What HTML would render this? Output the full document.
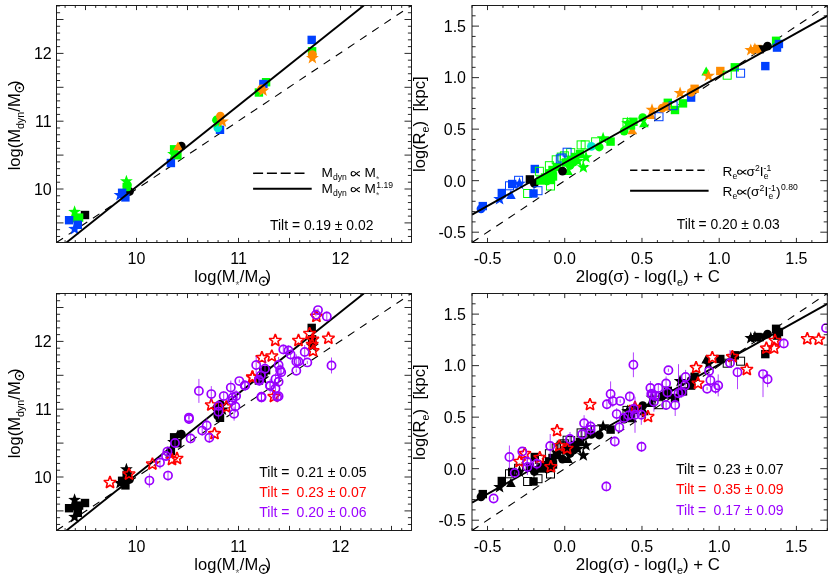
<!DOCTYPE html>
<html><head><meta charset="utf-8"><title>Figure</title><style>html,body{margin:0;padding:0;background:#fff;overflow:hidden}svg{display:block;will-change:transform}text{font-family:"Liberation Sans",sans-serif}</style></head><body>
<svg width="830" height="575" viewBox="0 0 830 575">
<rect width="830" height="575" fill="#fff"/>
<defs>
<clipPath id="c1"><rect x="56.5" y="5.5" width="355.0" height="237.0"/></clipPath>
<clipPath id="c2"><rect x="472.0" y="5.5" width="355.3" height="237.0"/></clipPath>
<clipPath id="c3"><rect x="56.5" y="293.5" width="355.0" height="237.0"/></clipPath>
<clipPath id="c4"><rect x="472.0" y="293.5" width="355.3" height="237.0"/></clipPath>
</defs>
<g clip-path="url(#c1)">
<line x1="56.5" y1="242.5" x2="411.5" y2="5.5" stroke="#000" stroke-width="1.1" stroke-dasharray="7.8 6.8"/>
<rect x="80.8" y="210.8" width="8.4" height="8.4" fill="#000000"/>
<polygon points="74.6,205.3 76.2,209.8 81.0,209.9 77.2,212.8 78.5,217.4 74.6,214.8 70.7,217.4 72.0,212.8 68.2,209.9 73.0,209.8" fill="#00ff00"/>
<rect x="72.1" y="214.0" width="8.4" height="8.4" fill="#00ff00"/>
<rect x="74.9" y="213.4" width="8.4" height="8.4" fill="#00ff00"/>
<rect x="64.9" y="216.0" width="8.4" height="8.4" fill="#0040ff"/>
<polygon points="74.6,222.3 76.2,226.8 81.0,226.9 77.2,229.8 78.5,234.4 74.6,231.8 70.7,234.4 72.0,229.8 68.2,226.9 73.0,226.8" fill="#0040ff"/>
<rect x="73.6" y="220.6" width="8.4" height="8.4" fill="#0040ff"/>
<circle cx="129.5" cy="191.5" r="4.4" fill="#000000"/>
<polygon points="126.4,174.7 128.0,179.2 132.8,179.3 129.0,182.2 130.3,186.8 126.4,184.2 122.5,186.8 123.8,182.2 120.0,179.3 124.8,179.2" fill="#00ff00"/>
<rect x="122.5" y="182.8" width="8.4" height="8.4" fill="#00ff00"/>
<circle cx="127.5" cy="185.0" r="4.4" fill="#00ff00"/>
<polygon points="120.0,188.4 121.6,192.9 126.4,193.0 122.6,195.9 123.9,200.5 120.0,197.9 116.1,200.5 117.4,195.9 113.6,193.0 118.4,192.9" fill="#0040ff"/>
<rect x="117.9" y="188.6" width="8.4" height="8.4" fill="#0040ff"/>
<rect x="121.2" y="193.2" width="8.4" height="8.4" fill="#0040ff"/>
<circle cx="181.3" cy="146.1" r="4.4" fill="#000000"/>
<rect x="169.9" y="145.1" width="8.4" height="8.4" fill="#00ff00"/>
<polygon points="173.5,147.5 175.1,152.0 179.9,152.1 176.1,155.0 177.4,159.6 173.5,157.0 169.6,159.6 170.9,155.0 167.1,152.1 171.9,152.0" fill="#00ff00"/>
<rect x="173.2" y="151.0" width="8.4" height="8.4" fill="#00ff00"/>
<polygon points="178.0,141.5 182.8,150.3 173.2,150.3" fill="#ff8c00"/>
<rect x="166.7" y="158.8" width="8.4" height="8.4" fill="#0040ff"/>
<rect x="215.8" y="125.6" width="8.4" height="8.4" fill="#0040ff"/>
<circle cx="217.8" cy="127.8" r="4.4" fill="#00e8d0"/>
<circle cx="216.5" cy="120.0" r="4.4" fill="#00ff00"/>
<polygon points="218.0,115.6 219.6,120.1 224.4,120.2 220.6,123.1 221.9,127.7 218.0,125.0 214.1,127.7 215.4,123.1 211.6,120.2 216.4,120.1" fill="#00ff00"/>
<circle cx="220.4" cy="116.1" r="4.4" fill="#ff8c00"/>
<polygon points="222.4,114.9 224.0,119.4 228.8,119.5 225.0,122.4 226.3,127.0 222.4,124.3 218.5,127.0 219.8,122.4 216.0,119.5 220.8,119.4" fill="#ff8c00"/>
<rect x="261.9" y="78.0" width="8.4" height="8.4" fill="#00ff00"/>
<rect x="254.7" y="88.3" width="8.4" height="8.4" fill="#00ff00"/>
<rect x="259.2" y="79.8" width="8.4" height="8.4" fill="#0040ff"/>
<circle cx="261.5" cy="89.0" r="4.4" fill="#ff8c00"/>
<polygon points="263.0,83.9 264.6,88.4 269.4,88.5 265.6,91.4 266.9,96.0 263.0,93.3 259.1,96.0 260.4,91.4 256.6,88.5 261.4,88.4" fill="#ff8c00"/>
<rect x="307.5" y="35.7" width="8.4" height="8.4" fill="#0040ff"/>
<rect x="307.9" y="47.1" width="8.4" height="8.4" fill="#00ff00"/>
<circle cx="312.4" cy="54.6" r="4.4" fill="#ff8c00"/>
<polygon points="312.4,51.4 314.0,55.9 318.8,56.0 315.0,58.9 316.3,63.5 312.4,60.8 308.5,63.5 309.8,58.9 306.0,56.0 310.8,55.9" fill="#ff8c00"/>
<line x1="66.5" y1="242.5" x2="363.8" y2="5.5" stroke="#000" stroke-width="1.9"/>
</g>
<path d="M65.10 242.50v-2.4M65.10 5.50v2.4M75.30 242.50v-2.4M75.30 5.50v2.4M85.50 242.50v-4.6M85.50 5.50v4.6M95.70 242.50v-2.4M95.70 5.50v2.4M105.90 242.50v-2.4M105.90 5.50v2.4M116.10 242.50v-2.4M116.10 5.50v2.4M126.30 242.50v-2.4M126.30 5.50v2.4M136.50 242.50v-4.6M136.50 5.50v4.6M146.70 242.50v-2.4M146.70 5.50v2.4M156.90 242.50v-2.4M156.90 5.50v2.4M167.10 242.50v-2.4M167.10 5.50v2.4M177.30 242.50v-2.4M177.30 5.50v2.4M187.50 242.50v-4.6M187.50 5.50v4.6M197.70 242.50v-2.4M197.70 5.50v2.4M207.90 242.50v-2.4M207.90 5.50v2.4M218.10 242.50v-2.4M218.10 5.50v2.4M228.30 242.50v-2.4M228.30 5.50v2.4M238.50 242.50v-4.6M238.50 5.50v4.6M248.70 242.50v-2.4M248.70 5.50v2.4M258.90 242.50v-2.4M258.90 5.50v2.4M269.10 242.50v-2.4M269.10 5.50v2.4M279.30 242.50v-2.4M279.30 5.50v2.4M289.50 242.50v-4.6M289.50 5.50v4.6M299.70 242.50v-2.4M299.70 5.50v2.4M309.90 242.50v-2.4M309.90 5.50v2.4M320.10 242.50v-2.4M320.10 5.50v2.4M330.30 242.50v-2.4M330.30 5.50v2.4M340.50 242.50v-4.6M340.50 5.50v4.6M350.70 242.50v-2.4M350.70 5.50v2.4M360.90 242.50v-2.4M360.90 5.50v2.4M371.10 242.50v-2.4M371.10 5.50v2.4M381.30 242.50v-2.4M381.30 5.50v2.4M391.50 242.50v-4.6M391.50 5.50v4.6M401.70 242.50v-2.4M401.70 5.50v2.4M56.50 236.46h3.6M411.50 236.46h-3.6M56.50 229.68h3.6M411.50 229.68h-3.6M56.50 222.90h7.0M411.50 222.90h-7.0M56.50 216.12h3.6M411.50 216.12h-3.6M56.50 209.34h3.6M411.50 209.34h-3.6M56.50 202.56h3.6M411.50 202.56h-3.6M56.50 195.78h3.6M411.50 195.78h-3.6M56.50 189.00h7.0M411.50 189.00h-7.0M56.50 182.22h3.6M411.50 182.22h-3.6M56.50 175.44h3.6M411.50 175.44h-3.6M56.50 168.66h3.6M411.50 168.66h-3.6M56.50 161.88h3.6M411.50 161.88h-3.6M56.50 155.10h7.0M411.50 155.10h-7.0M56.50 148.32h3.6M411.50 148.32h-3.6M56.50 141.54h3.6M411.50 141.54h-3.6M56.50 134.76h3.6M411.50 134.76h-3.6M56.50 127.98h3.6M411.50 127.98h-3.6M56.50 121.20h7.0M411.50 121.20h-7.0M56.50 114.42h3.6M411.50 114.42h-3.6M56.50 107.64h3.6M411.50 107.64h-3.6M56.50 100.86h3.6M411.50 100.86h-3.6M56.50 94.08h3.6M411.50 94.08h-3.6M56.50 87.30h7.0M411.50 87.30h-7.0M56.50 80.52h3.6M411.50 80.52h-3.6M56.50 73.74h3.6M411.50 73.74h-3.6M56.50 66.96h3.6M411.50 66.96h-3.6M56.50 60.18h3.6M411.50 60.18h-3.6M56.50 53.40h7.0M411.50 53.40h-7.0M56.50 46.62h3.6M411.50 46.62h-3.6M56.50 39.84h3.6M411.50 39.84h-3.6M56.50 33.06h3.6M411.50 33.06h-3.6M56.50 26.28h3.6M411.50 26.28h-3.6M56.50 19.50h7.0M411.50 19.50h-7.0M56.50 12.72h3.6M411.50 12.72h-3.6M56.50 5.94h3.6M411.50 5.94h-3.6" stroke="#111" stroke-width="0.9" fill="none"/>
<rect x="56.50" y="5.50" width="355.00" height="237.00" fill="none" stroke="#111" stroke-width="0.95"/>
<text x="136.5" y="264.2" font-size="16.00" text-anchor="middle" fill="#000">10</text>
<text x="238.5" y="264.2" font-size="16.00" text-anchor="middle" fill="#000">11</text>
<text x="340.5" y="264.2" font-size="16.00" text-anchor="middle" fill="#000">12</text>
<text x="51.7" y="194.8" font-size="16.00" text-anchor="end" fill="#000">10</text>
<text x="51.7" y="127.0" font-size="16.00" text-anchor="end" fill="#000">11</text>
<text x="51.7" y="59.2" font-size="16.00" text-anchor="end" fill="#000">12</text>
<text x="194.36" y="281.90" font-size="16.50" fill="#000">log(M</text>
<text x="235.62" y="288.70" font-size="10.00" fill="#666">*</text>
<text x="239.81" y="281.90" font-size="16.50" fill="#000">/M</text>
<circle cx="263.6" cy="281.3" r="4.1" fill="none" stroke="#000" stroke-width="1.2"/><circle cx="263.6" cy="281.3" r="1.1" fill="#000"/>
<text x="265.54" y="281.90" font-size="16.50" fill="#000">)</text>
<g transform="translate(20.1 170.3) rotate(-90)">
<text x="0.00" y="0.00" font-size="16.50" fill="#000">log(M</text>
<text x="41.26" y="3.90" font-size="10.80" fill="#000">dyn</text>
<text x="58.67" y="0.00" font-size="16.50" fill="#000">/M</text>
<circle cx="82.5" cy="-0.6" r="4.1" fill="none" stroke="#000" stroke-width="1.2"/><circle cx="82.5" cy="-0.6" r="1.1" fill="#000"/>
<text x="84.40" y="0.00" font-size="16.50" fill="#000">)</text>
</g>
<g clip-path="url(#c2)">
<line x1="472.0" y1="242.5" x2="827.3" y2="5.5" stroke="#000" stroke-width="1.1" stroke-dasharray="7.8 6.8"/>
<rect x="478.6" y="201.9" width="8.4" height="8.4" fill="#0040ff"/>
<circle cx="481.0" cy="208.8" r="4.4" fill="#0040ff"/>
<polygon points="499.6,192.5 501.2,197.0 506.0,197.1 502.2,200.0 503.5,204.6 499.6,202.0 495.7,204.6 497.0,200.0 493.2,197.1 498.0,197.0" fill="#0040ff"/>
<rect x="497.6" y="188.8" width="8.4" height="8.4" fill="#0040ff"/>
<polygon points="510.9,190.1 515.7,198.9 506.1,198.9" fill="#0040ff"/>
<rect x="505.5" y="181.8" width="8.0" height="8.0" fill="none" stroke="#0040ff" stroke-width="1.0"/>
<rect x="508.0" y="179.8" width="8.4" height="8.4" fill="#0040ff"/>
<rect x="514.6" y="176.3" width="8.0" height="8.0" fill="none" stroke="#0040ff" stroke-width="1.0"/>
<polygon points="519.5,177.1 521.1,181.6 525.9,181.7 522.1,184.6 523.4,189.2 519.5,186.6 515.6,189.2 516.9,184.6 513.1,181.7 517.9,181.6" fill="#0040ff"/>
<rect x="525.7" y="175.2" width="8.4" height="8.4" fill="#000000"/>
<circle cx="534.4" cy="183.5" r="4.4" fill="#000000"/>
<rect x="530.6" y="164.8" width="8.4" height="8.4" fill="#0040ff"/>
<rect x="535.4" y="167.3" width="8.0" height="8.0" fill="none" stroke="#00ff00" stroke-width="1.0"/>
<rect x="523.6" y="189.5" width="8.0" height="8.0" fill="none" stroke="#00ff00" stroke-width="1.0"/>
<rect x="529.3" y="189.3" width="8.4" height="8.4" fill="#0040ff"/>
<rect x="534.0" y="186.7" width="8.0" height="8.0" fill="none" stroke="#0040ff" stroke-width="1.0"/>
<rect x="536.3" y="176.3" width="8.4" height="8.4" fill="#00ff00"/>
<rect x="540.8" y="173.3" width="8.4" height="8.4" fill="#00ff00"/>
<rect x="544.8" y="169.8" width="8.4" height="8.4" fill="#00ff00"/>
<rect x="548.8" y="172.3" width="8.4" height="8.4" fill="#00ff00"/>
<circle cx="547.0" cy="181.0" r="4.4" fill="#00ff00"/>
<rect x="548.3" y="165.8" width="8.4" height="8.4" fill="#00ff00"/>
<rect x="552.8" y="162.8" width="8.4" height="8.4" fill="#00ff00"/>
<rect x="546.8" y="175.8" width="8.4" height="8.4" fill="#00ff00"/>
<rect x="546.5" y="182.0" width="8.0" height="8.0" fill="none" stroke="#00ff00" stroke-width="1.0"/>
<rect x="545.4" y="161.7" width="8.0" height="8.0" fill="none" stroke="#00ff00" stroke-width="1.0"/>
<rect x="552.2" y="155.8" width="8.0" height="8.0" fill="none" stroke="#00ff00" stroke-width="1.0"/>
<rect x="557.2" y="153.1" width="8.0" height="8.0" fill="none" stroke="#00ff00" stroke-width="1.0"/>
<rect x="560.4" y="151.8" width="8.0" height="8.0" fill="none" stroke="#00ff00" stroke-width="1.0"/>
<rect x="566.7" y="148.6" width="8.0" height="8.0" fill="none" stroke="#00ff00" stroke-width="1.0"/>
<rect x="577.1" y="140.9" width="8.0" height="8.0" fill="none" stroke="#00ff00" stroke-width="1.0"/>
<rect x="581.2" y="140.9" width="8.0" height="8.0" fill="none" stroke="#00ff00" stroke-width="1.0"/>
<rect x="591.6" y="137.8" width="8.0" height="8.0" fill="none" stroke="#00ff00" stroke-width="1.0"/>
<rect x="556.3" y="154.9" width="8.0" height="8.0" fill="none" stroke="#0040ff" stroke-width="1.0"/>
<rect x="558.0" y="154.0" width="8.0" height="8.0" fill="none" stroke="#0040ff" stroke-width="1.0"/>
<rect x="563.1" y="148.2" width="8.0" height="8.0" fill="none" stroke="#0040ff" stroke-width="1.0"/>
<rect x="561.8" y="158.3" width="8.4" height="8.4" fill="#00ff00"/>
<rect x="566.8" y="155.8" width="8.4" height="8.4" fill="#00ff00"/>
<rect x="570.8" y="152.8" width="8.4" height="8.4" fill="#00ff00"/>
<circle cx="570.0" cy="165.5" r="4.4" fill="#00ff00"/>
<polygon points="568.0,166.3 572.8,175.1 563.2,175.1" fill="#00ff00"/>
<rect x="575.8" y="149.8" width="8.4" height="8.4" fill="#00ff00"/>
<circle cx="574.0" cy="162.0" r="4.4" fill="#00ff00"/>
<polygon points="577.9,154.3 579.5,158.8 584.3,158.9 580.5,161.8 581.8,166.4 577.9,163.8 574.0,166.4 575.3,161.8 571.5,158.9 576.3,158.8" fill="#00ff00"/>
<polygon points="586.0,150.7 587.6,155.2 592.4,155.3 588.6,158.2 589.9,162.8 586.0,160.2 582.1,162.8 583.4,158.2 579.6,155.3 584.4,155.2" fill="#00ff00"/>
<polygon points="583.3,160.7 584.9,165.2 589.7,165.3 585.9,168.2 587.2,172.8 583.3,170.2 579.4,172.8 580.7,168.2 576.9,165.3 581.7,165.2" fill="#00ff00"/>
<circle cx="562.5" cy="171.1" r="4.4" fill="#000000"/>
<circle cx="591.4" cy="146.3" r="4.4" fill="#00e8d0"/>
<circle cx="599.2" cy="147.0" r="4.4" fill="#00ff00"/>
<polygon points="603.1,131.7 604.7,136.2 609.5,136.3 605.7,139.2 607.0,143.8 603.1,141.2 599.2,143.8 600.5,139.2 596.7,136.3 601.5,136.2" fill="#00ff00"/>
<rect x="606.4" y="137.4" width="8.4" height="8.4" fill="#00ff00"/>
<polygon points="632.2,125.4 637.0,134.2 627.4,134.2" fill="#ff8c00"/>
<circle cx="624.1" cy="131.1" r="4.4" fill="#00ff00"/>
<rect x="623.0" y="118.4" width="8.0" height="8.0" fill="none" stroke="#00ff00" stroke-width="1.0"/>
<polygon points="627.5,116.6 629.1,121.1 633.9,121.2 630.1,124.1 631.4,128.7 627.5,126.0 623.6,128.7 624.9,124.1 621.1,121.2 625.9,121.1" fill="#00ff00"/>
<rect x="629.2" y="117.6" width="8.4" height="8.4" fill="#00ff00"/>
<rect x="626.8" y="121.3" width="8.4" height="8.4" fill="#00ff00"/>
<circle cx="642.7" cy="117.7" r="4.4" fill="#00ff00"/>
<polygon points="643.9,118.4 648.7,127.2 639.1,127.2" fill="#00ff00"/>
<polygon points="650.9,110.2 655.7,119.0 646.1,119.0" fill="#ff8c00"/>
<polygon points="652.0,103.2 653.6,107.7 658.4,107.8 654.6,110.7 655.9,115.3 652.0,112.6 648.1,115.3 649.4,110.7 645.6,107.8 650.4,107.7" fill="#ff8c00"/>
<rect x="655.0" y="112.7" width="8.0" height="8.0" fill="none" stroke="#0040ff" stroke-width="1.0"/>
<rect x="663.6" y="98.6" width="8.4" height="8.4" fill="#00ff00"/>
<circle cx="662.2" cy="108.2" r="4.4" fill="#ff8c00"/>
<rect x="662.4" y="102.3" width="8.4" height="8.4" fill="#ff8c00"/>
<rect x="670.8" y="105.8" width="8.4" height="8.4" fill="#00ff00"/>
<rect x="669.1" y="101.7" width="8.0" height="8.0" fill="none" stroke="#0040ff" stroke-width="1.0"/>
<rect x="678.8" y="99.2" width="8.4" height="8.4" fill="#00ff00"/>
<polygon points="680.1,86.5 681.7,91.0 686.5,91.1 682.7,94.0 684.0,98.6 680.1,96.0 676.2,98.6 677.5,94.0 673.7,91.1 678.5,91.0" fill="#ff8c00"/>
<rect x="686.9" y="93.4" width="8.4" height="8.4" fill="#0040ff"/>
<circle cx="691.1" cy="92.3" r="4.4" fill="#ff8c00"/>
<rect x="690.4" y="84.6" width="8.4" height="8.4" fill="#ff8c00"/>
<polygon points="706.2,66.6 711.0,75.4 701.4,75.4" fill="#00ff00"/>
<polygon points="708.5,69.2 710.1,73.7 714.9,73.8 711.1,76.7 712.4,81.3 708.5,78.6 704.6,81.3 705.9,76.7 702.1,73.8 706.9,73.7" fill="#ff8c00"/>
<rect x="716.1" y="66.8" width="8.4" height="8.4" fill="#ff8c00"/>
<rect x="723.2" y="71.2" width="8.0" height="8.0" fill="none" stroke="#00ff00" stroke-width="1.0"/>
<rect x="730.6" y="63.1" width="8.4" height="8.4" fill="#00ff00"/>
<rect x="736.6" y="69.2" width="8.0" height="8.0" fill="none" stroke="#0040ff" stroke-width="1.0"/>
<polygon points="750.8,43.4 752.4,47.9 757.2,48.0 753.4,50.9 754.7,55.5 750.8,52.8 746.9,55.5 748.2,50.9 744.4,48.0 749.2,47.9" fill="#ff8c00"/>
<polygon points="754.9,42.5 756.5,47.0 761.3,47.1 757.5,50.0 758.8,54.6 754.9,51.9 751.0,54.6 752.3,50.0 748.5,47.1 753.3,47.0" fill="#ff8c00"/>
<rect x="753.3" y="44.8" width="8.4" height="8.4" fill="#ff8c00"/>
<polygon points="763.0,54.1 767.8,45.3 758.2,45.3" fill="#000000"/>
<circle cx="767.5" cy="46.2" r="4.4" fill="#000000"/>
<rect x="771.9" y="36.6" width="8.4" height="8.4" fill="#00ff00"/>
<rect x="774.7" y="39.8" width="8.4" height="8.4" fill="#0040ff"/>
<rect x="772.8" y="43.4" width="8.4" height="8.4" fill="#0040ff"/>
<rect x="761.1" y="61.9" width="8.4" height="8.4" fill="#0040ff"/>
<line x1="472.0" y1="214.6" x2="827.3" y2="15.9" stroke="#000" stroke-width="1.9"/>
</g>
<path d="M472.07 242.50v-2.4M472.07 5.50v2.4M487.51 242.50v-4.6M487.51 5.50v4.6M502.96 242.50v-2.4M502.96 5.50v2.4M518.40 242.50v-2.4M518.40 5.50v2.4M533.85 242.50v-2.4M533.85 5.50v2.4M549.29 242.50v-2.4M549.29 5.50v2.4M564.74 242.50v-4.6M564.74 5.50v4.6M580.19 242.50v-2.4M580.19 5.50v2.4M595.63 242.50v-2.4M595.63 5.50v2.4M611.08 242.50v-2.4M611.08 5.50v2.4M626.52 242.50v-2.4M626.52 5.50v2.4M641.97 242.50v-4.6M641.97 5.50v4.6M657.41 242.50v-2.4M657.41 5.50v2.4M672.86 242.50v-2.4M672.86 5.50v2.4M688.30 242.50v-2.4M688.30 5.50v2.4M703.75 242.50v-2.4M703.75 5.50v2.4M719.19 242.50v-4.6M719.19 5.50v4.6M734.63 242.50v-2.4M734.63 5.50v2.4M750.08 242.50v-2.4M750.08 5.50v2.4M765.52 242.50v-2.4M765.52 5.50v2.4M780.97 242.50v-2.4M780.97 5.50v2.4M796.41 242.50v-4.6M796.41 5.50v4.6M811.86 242.50v-2.4M811.86 5.50v2.4M827.31 242.50v-2.4M827.31 5.50v2.4M472.00 242.49h3.6M827.30 242.49h-3.6M472.00 232.19h7.0M827.30 232.19h-7.0M472.00 221.89h3.6M827.30 221.89h-3.6M472.00 211.58h3.6M827.30 211.58h-3.6M472.00 201.28h3.6M827.30 201.28h-3.6M472.00 190.97h3.6M827.30 190.97h-3.6M472.00 180.67h7.0M827.30 180.67h-7.0M472.00 170.37h3.6M827.30 170.37h-3.6M472.00 160.06h3.6M827.30 160.06h-3.6M472.00 149.76h3.6M827.30 149.76h-3.6M472.00 139.45h3.6M827.30 139.45h-3.6M472.00 129.15h7.0M827.30 129.15h-7.0M472.00 118.85h3.6M827.30 118.85h-3.6M472.00 108.54h3.6M827.30 108.54h-3.6M472.00 98.24h3.6M827.30 98.24h-3.6M472.00 87.93h3.6M827.30 87.93h-3.6M472.00 77.63h7.0M827.30 77.63h-7.0M472.00 67.33h3.6M827.30 67.33h-3.6M472.00 57.02h3.6M827.30 57.02h-3.6M472.00 46.72h3.6M827.30 46.72h-3.6M472.00 36.41h3.6M827.30 36.41h-3.6M472.00 26.11h7.0M827.30 26.11h-7.0M472.00 15.81h3.6M827.30 15.81h-3.6M472.00 5.50h3.6M827.30 5.50h-3.6" stroke="#111" stroke-width="0.9" fill="none"/>
<rect x="472.00" y="5.50" width="355.30" height="237.00" fill="none" stroke="#111" stroke-width="0.95"/>
<text x="487.5" y="264.2" font-size="16.00" text-anchor="middle" fill="#000">-0.5</text>
<text x="564.7" y="264.2" font-size="16.00" text-anchor="middle" fill="#000">0.0</text>
<text x="642.0" y="264.2" font-size="16.00" text-anchor="middle" fill="#000">0.5</text>
<text x="719.2" y="264.2" font-size="16.00" text-anchor="middle" fill="#000">1.0</text>
<text x="796.4" y="264.2" font-size="16.00" text-anchor="middle" fill="#000">1.5</text>
<text x="466.0" y="238.0" font-size="16.00" text-anchor="end" fill="#000">-0.5</text>
<text x="466.0" y="186.5" font-size="16.00" text-anchor="end" fill="#000">0.0</text>
<text x="466.0" y="134.9" font-size="16.00" text-anchor="end" fill="#000">0.5</text>
<text x="466.0" y="83.4" font-size="16.00" text-anchor="end" fill="#000">1.0</text>
<text x="466.0" y="31.9" font-size="16.00" text-anchor="end" fill="#000">1.5</text>
<text x="575.79" y="281.90" font-size="16.85" fill="#000">2log(σ) - log(I</text>
<text x="677.02" y="285.80" font-size="10.80" fill="#000">e</text>
<text x="683.03" y="281.90" font-size="16.85" fill="#000">) + C</text>
<g transform="translate(425.4 171.9) rotate(-90)">
<text x="0.00" y="0.00" font-size="16.50" fill="#000">log(R</text>
<text x="39.43" y="3.90" font-size="10.80" fill="#000">e</text>
<text x="45.44" y="0.00" font-size="16.50" fill="#000">)</text>
<text x="60.53" y="0.00" font-size="16.50" fill="#000">[kpc]</text>
</g>
<g clip-path="url(#c3)">
<line x1="56.5" y1="530.5" x2="411.5" y2="293.5" stroke="#000" stroke-width="1.1" stroke-dasharray="7.8 6.8"/>
<rect x="80.8" y="498.8" width="8.4" height="8.4" fill="#000000"/>
<polygon points="74.6,493.3 76.2,497.8 81.0,497.9 77.2,500.8 78.5,505.4 74.6,502.8 70.7,505.4 72.0,500.8 68.2,497.9 73.0,497.8" fill="#000000"/>
<rect x="72.1" y="502.0" width="8.4" height="8.4" fill="#000000"/>
<rect x="74.9" y="501.4" width="8.4" height="8.4" fill="#000000"/>
<rect x="64.9" y="504.0" width="8.4" height="8.4" fill="#000000"/>
<polygon points="74.6,510.3 76.2,514.8 81.0,514.9 77.2,517.8 78.5,522.4 74.6,519.8 70.7,522.4 72.0,517.8 68.2,514.9 73.0,514.8" fill="#000000"/>
<rect x="73.6" y="508.6" width="8.4" height="8.4" fill="#000000"/>
<circle cx="129.5" cy="479.5" r="4.4" fill="#000000"/>
<polygon points="126.4,462.7 128.0,467.2 132.8,467.3 129.0,470.2 130.3,474.8 126.4,472.2 122.5,474.8 123.8,470.2 120.0,467.3 124.8,467.2" fill="#000000"/>
<rect x="122.5" y="470.8" width="8.4" height="8.4" fill="#000000"/>
<circle cx="127.5" cy="473.0" r="4.4" fill="#000000"/>
<polygon points="120.0,476.4 121.6,480.9 126.4,481.0 122.6,483.9 123.9,488.5 120.0,485.9 116.1,488.5 117.4,483.9 113.6,481.0 118.4,480.9" fill="#000000"/>
<rect x="117.9" y="476.6" width="8.4" height="8.4" fill="#000000"/>
<rect x="121.2" y="481.2" width="8.4" height="8.4" fill="#000000"/>
<circle cx="181.3" cy="434.1" r="4.4" fill="#000000"/>
<rect x="169.9" y="433.1" width="8.4" height="8.4" fill="#000000"/>
<polygon points="173.5,435.5 175.1,440.0 179.9,440.1 176.1,443.0 177.4,447.6 173.5,444.9 169.6,447.6 170.9,443.0 167.1,440.1 171.9,440.0" fill="#000000"/>
<rect x="173.2" y="439.0" width="8.4" height="8.4" fill="#000000"/>
<polygon points="178.0,429.5 182.8,438.3 173.2,438.3" fill="#000000"/>
<rect x="166.7" y="446.8" width="8.4" height="8.4" fill="#000000"/>
<rect x="215.8" y="413.6" width="8.4" height="8.4" fill="#000000"/>
<circle cx="217.8" cy="415.8" r="4.4" fill="#000000"/>
<circle cx="216.5" cy="408.0" r="4.4" fill="#000000"/>
<polygon points="218.0,403.6 219.6,408.1 224.4,408.2 220.6,411.1 221.9,415.7 218.0,413.1 214.1,415.7 215.4,411.1 211.6,408.2 216.4,408.1" fill="#000000"/>
<circle cx="220.4" cy="404.1" r="4.4" fill="#000000"/>
<polygon points="222.4,402.9 224.0,407.4 228.8,407.5 225.0,410.4 226.3,415.0 222.4,412.4 218.5,415.0 219.8,410.4 216.0,407.5 220.8,407.4" fill="#000000"/>
<rect x="261.9" y="366.0" width="8.4" height="8.4" fill="#000000"/>
<rect x="254.7" y="376.3" width="8.4" height="8.4" fill="#000000"/>
<rect x="259.2" y="367.8" width="8.4" height="8.4" fill="#000000"/>
<circle cx="261.5" cy="377.0" r="4.4" fill="#000000"/>
<polygon points="263.0,371.9 264.6,376.4 269.4,376.5 265.6,379.4 266.9,384.0 263.0,381.4 259.1,384.0 260.4,379.4 256.6,376.5 261.4,376.4" fill="#000000"/>
<rect x="307.5" y="323.7" width="8.4" height="8.4" fill="#000000"/>
<rect x="307.9" y="335.1" width="8.4" height="8.4" fill="#000000"/>
<circle cx="312.4" cy="342.6" r="4.4" fill="#000000"/>
<polygon points="312.4,339.4 314.0,343.9 318.8,344.0 315.0,346.9 316.3,351.5 312.4,348.9 308.5,351.5 309.8,346.9 306.0,344.0 310.8,343.9" fill="#000000"/>
<line x1="66.5" y1="530.5" x2="363.8" y2="293.5" stroke="#000" stroke-width="1.9"/>
<polygon points="110.0,476.1 111.6,480.2 116.1,480.5 112.7,483.4 113.8,487.7 110.0,485.3 106.2,487.7 107.3,483.4 103.9,480.5 108.4,480.2" fill="none" stroke="#ff0000" stroke-width="1.6" stroke-linejoin="miter" stroke-miterlimit="2.4"/>
<polygon points="129.0,467.7 130.6,471.8 135.1,472.1 131.7,475.0 132.8,479.3 129.0,476.9 125.2,479.3 126.3,475.0 122.9,472.1 127.4,471.8" fill="none" stroke="#ff0000" stroke-width="1.6" stroke-linejoin="miter" stroke-miterlimit="2.4"/>
<polygon points="152.4,457.7 154.0,461.8 158.5,462.1 155.1,465.0 156.2,469.3 152.4,466.9 148.6,469.3 149.7,465.0 146.3,462.1 150.8,461.8" fill="none" stroke="#ff0000" stroke-width="1.6" stroke-linejoin="miter" stroke-miterlimit="2.4"/>
<polygon points="172.0,453.1 173.6,457.2 178.1,457.5 174.7,460.4 175.8,464.7 172.0,462.3 168.2,464.7 169.3,460.4 165.9,457.5 170.4,457.2" fill="none" stroke="#ff0000" stroke-width="1.6" stroke-linejoin="miter" stroke-miterlimit="2.4"/>
<polygon points="177.0,452.1 178.6,456.2 183.1,456.5 179.7,459.4 180.8,463.7 177.0,461.3 173.2,463.7 174.3,459.4 170.9,456.5 175.4,456.2" fill="none" stroke="#ff0000" stroke-width="1.6" stroke-linejoin="miter" stroke-miterlimit="2.4"/>
<polygon points="211.3,398.6 212.9,402.7 217.4,403.0 214.0,405.9 215.1,410.2 211.3,407.8 207.5,410.2 208.6,405.9 205.2,403.0 209.7,402.7" fill="none" stroke="#ff0000" stroke-width="1.6" stroke-linejoin="miter" stroke-miterlimit="2.4"/>
<polygon points="226.3,400.6 227.9,404.7 232.4,405.0 229.0,407.9 230.1,412.2 226.3,409.8 222.5,412.2 223.6,407.9 220.2,405.0 224.7,404.7" fill="none" stroke="#ff0000" stroke-width="1.6" stroke-linejoin="miter" stroke-miterlimit="2.4"/>
<polygon points="214.5,427.3 216.1,431.4 220.6,431.7 217.2,434.6 218.3,438.9 214.5,436.5 210.7,438.9 211.8,434.6 208.4,431.7 212.9,431.4" fill="none" stroke="#ff0000" stroke-width="1.6" stroke-linejoin="miter" stroke-miterlimit="2.4"/>
<polygon points="252.4,370.6 254.0,374.7 258.5,375.0 255.1,377.9 256.2,382.2 252.4,379.8 248.6,382.2 249.7,377.9 246.3,375.0 250.8,374.7" fill="none" stroke="#ff0000" stroke-width="1.6" stroke-linejoin="miter" stroke-miterlimit="2.4"/>
<polygon points="273.9,390.2 275.5,394.3 280.0,394.6 276.6,397.5 277.7,401.8 273.9,399.4 270.1,401.8 271.2,397.5 267.8,394.6 272.3,394.3" fill="none" stroke="#ff0000" stroke-width="1.6" stroke-linejoin="miter" stroke-miterlimit="2.4"/>
<polygon points="261.9,351.3 263.5,355.4 268.0,355.7 264.6,358.6 265.7,362.9 261.9,360.5 258.1,362.9 259.2,358.6 255.8,355.7 260.3,355.4" fill="none" stroke="#ff0000" stroke-width="1.6" stroke-linejoin="miter" stroke-miterlimit="2.4"/>
<polygon points="271.8,349.7 273.4,353.8 277.9,354.1 274.5,357.0 275.6,361.3 271.8,358.9 268.0,361.3 269.1,357.0 265.7,354.1 270.2,353.8" fill="none" stroke="#ff0000" stroke-width="1.6" stroke-linejoin="miter" stroke-miterlimit="2.4"/>
<polygon points="252.5,371.1 254.1,375.2 258.6,375.5 255.2,378.4 256.3,382.7 252.5,380.3 248.7,382.7 249.8,378.4 246.4,375.5 250.9,375.2" fill="none" stroke="#ff0000" stroke-width="1.6" stroke-linejoin="miter" stroke-miterlimit="2.4"/>
<polygon points="275.3,334.1 276.9,338.2 281.4,338.5 278.0,341.4 279.1,345.7 275.3,343.3 271.5,345.7 272.6,341.4 269.2,338.5 273.7,338.2" fill="none" stroke="#ff0000" stroke-width="1.6" stroke-linejoin="miter" stroke-miterlimit="2.4"/>
<polygon points="298.5,334.1 300.1,338.2 304.6,338.5 301.2,341.4 302.3,345.7 298.5,343.3 294.7,345.7 295.8,341.4 292.4,338.5 296.9,338.2" fill="none" stroke="#ff0000" stroke-width="1.6" stroke-linejoin="miter" stroke-miterlimit="2.4"/>
<polygon points="313.0,344.5 314.6,348.6 319.1,348.9 315.7,351.8 316.8,356.1 313.0,353.7 309.2,356.1 310.3,351.8 306.9,348.9 311.4,348.6" fill="none" stroke="#ff0000" stroke-width="1.6" stroke-linejoin="miter" stroke-miterlimit="2.4"/>
<polygon points="316.4,310.0 318.0,314.1 322.5,314.4 319.1,317.3 320.2,321.6 316.4,319.2 312.6,321.6 313.7,317.3 310.3,314.4 314.8,314.1" fill="none" stroke="#ff0000" stroke-width="1.6" stroke-linejoin="miter" stroke-miterlimit="2.4"/>
<polygon points="309.6,327.2 311.2,331.3 315.7,331.6 312.3,334.5 313.4,338.8 309.6,336.4 305.8,338.8 306.9,334.5 303.5,331.6 308.0,331.3" fill="none" stroke="#ff0000" stroke-width="1.6" stroke-linejoin="miter" stroke-miterlimit="2.4"/>
<polygon points="312.8,332.9 314.4,337.0 318.9,337.3 315.5,340.2 316.6,344.5 312.8,342.1 309.0,344.5 310.1,340.2 306.7,337.3 311.2,337.0" fill="none" stroke="#ff0000" stroke-width="1.6" stroke-linejoin="miter" stroke-miterlimit="2.4"/>
<polygon points="312.2,338.1 313.8,342.2 318.3,342.5 314.9,345.4 316.0,349.7 312.2,347.3 308.4,349.7 309.5,345.4 306.1,342.5 310.6,342.2" fill="none" stroke="#ff0000" stroke-width="1.6" stroke-linejoin="miter" stroke-miterlimit="2.4"/>
<polygon points="328.4,331.9 330.0,336.0 334.5,336.3 331.1,339.2 332.2,343.5 328.4,341.1 324.6,343.5 325.7,339.2 322.3,336.3 326.8,336.0" fill="none" stroke="#ff0000" stroke-width="1.6" stroke-linejoin="miter" stroke-miterlimit="2.4"/>
<line x1="149.4" y1="473.6" x2="149.4" y2="487.6" stroke="#9a00ff" stroke-width="1" stroke-opacity="0.75"/>
<circle cx="149.4" cy="480.6" r="4.1" fill="none" stroke="#9a00ff" stroke-width="1.7"/>
<line x1="168.0" y1="470.6" x2="168.0" y2="480.6" stroke="#9a00ff" stroke-width="1" stroke-opacity="0.75"/>
<circle cx="168.0" cy="475.6" r="4.1" fill="none" stroke="#9a00ff" stroke-width="1.7"/>
<line x1="160.0" y1="456.6" x2="160.0" y2="468.6" stroke="#9a00ff" stroke-width="1" stroke-opacity="0.75"/>
<circle cx="160.0" cy="462.6" r="4.1" fill="none" stroke="#9a00ff" stroke-width="1.7"/>
<line x1="166.0" y1="451.0" x2="166.0" y2="461.0" stroke="#9a00ff" stroke-width="1" stroke-opacity="0.75"/>
<circle cx="166.0" cy="456.0" r="4.1" fill="none" stroke="#9a00ff" stroke-width="1.7"/>
<line x1="167.4" y1="446.6" x2="167.4" y2="456.6" stroke="#9a00ff" stroke-width="1" stroke-opacity="0.75"/>
<circle cx="167.4" cy="451.6" r="4.1" fill="none" stroke="#9a00ff" stroke-width="1.7"/>
<line x1="175.0" y1="438.0" x2="175.0" y2="448.0" stroke="#9a00ff" stroke-width="1" stroke-opacity="0.75"/>
<circle cx="175.0" cy="443.0" r="4.1" fill="none" stroke="#9a00ff" stroke-width="1.7"/>
<line x1="190.6" y1="433.4" x2="190.6" y2="443.4" stroke="#9a00ff" stroke-width="1" stroke-opacity="0.75"/>
<circle cx="190.6" cy="438.4" r="4.1" fill="none" stroke="#9a00ff" stroke-width="1.7"/>
<line x1="189.0" y1="414.0" x2="189.0" y2="424.0" stroke="#9a00ff" stroke-width="1" stroke-opacity="0.75"/>
<circle cx="189.0" cy="419.0" r="4.1" fill="none" stroke="#9a00ff" stroke-width="1.7"/>
<line x1="198.9" y1="378.9" x2="198.9" y2="402.9" stroke="#9a00ff" stroke-width="1" stroke-opacity="0.75"/>
<circle cx="198.9" cy="390.9" r="4.1" fill="none" stroke="#9a00ff" stroke-width="1.7"/>
<line x1="211.3" y1="386.1" x2="211.3" y2="402.1" stroke="#9a00ff" stroke-width="1" stroke-opacity="0.75"/>
<circle cx="211.3" cy="394.1" r="4.1" fill="none" stroke="#9a00ff" stroke-width="1.7"/>
<line x1="188.9" y1="416.0" x2="188.9" y2="419.2" stroke="#9a00ff" stroke-width="1" stroke-opacity="0.75"/>
<circle cx="188.9" cy="417.6" r="4.1" fill="none" stroke="#9a00ff" stroke-width="1.7"/>
<line x1="202.2" y1="425.6" x2="202.2" y2="435.6" stroke="#9a00ff" stroke-width="1" stroke-opacity="0.75"/>
<circle cx="202.2" cy="430.6" r="4.1" fill="none" stroke="#9a00ff" stroke-width="1.7"/>
<line x1="206.7" y1="418.4" x2="206.7" y2="432.4" stroke="#9a00ff" stroke-width="1" stroke-opacity="0.75"/>
<circle cx="206.7" cy="425.4" r="4.1" fill="none" stroke="#9a00ff" stroke-width="1.7"/>
<line x1="209.3" y1="432.8" x2="209.3" y2="442.8" stroke="#9a00ff" stroke-width="1" stroke-opacity="0.75"/>
<circle cx="209.3" cy="437.8" r="4.1" fill="none" stroke="#9a00ff" stroke-width="1.7"/>
<line x1="218.5" y1="399.9" x2="218.5" y2="411.9" stroke="#9a00ff" stroke-width="1" stroke-opacity="0.75"/>
<circle cx="218.5" cy="405.9" r="4.1" fill="none" stroke="#9a00ff" stroke-width="1.7"/>
<line x1="218.5" y1="404.7" x2="218.5" y2="418.7" stroke="#9a00ff" stroke-width="1" stroke-opacity="0.75"/>
<circle cx="218.5" cy="411.7" r="4.1" fill="none" stroke="#9a00ff" stroke-width="1.7"/>
<line x1="223.7" y1="391.1" x2="223.7" y2="401.1" stroke="#9a00ff" stroke-width="1" stroke-opacity="0.75"/>
<circle cx="223.7" cy="396.1" r="4.1" fill="none" stroke="#9a00ff" stroke-width="1.7"/>
<line x1="230.8" y1="380.6" x2="230.8" y2="394.6" stroke="#9a00ff" stroke-width="1" stroke-opacity="0.75"/>
<circle cx="230.8" cy="387.6" r="4.1" fill="none" stroke="#9a00ff" stroke-width="1.7"/>
<line x1="239.3" y1="379.5" x2="239.3" y2="382.7" stroke="#9a00ff" stroke-width="1" stroke-opacity="0.75"/>
<circle cx="239.3" cy="381.1" r="4.1" fill="none" stroke="#9a00ff" stroke-width="1.7"/>
<line x1="245.2" y1="380.6" x2="245.2" y2="390.6" stroke="#9a00ff" stroke-width="1" stroke-opacity="0.75"/>
<circle cx="245.2" cy="385.6" r="4.1" fill="none" stroke="#9a00ff" stroke-width="1.7"/>
<line x1="232.8" y1="391.4" x2="232.8" y2="403.4" stroke="#9a00ff" stroke-width="1" stroke-opacity="0.75"/>
<circle cx="232.8" cy="397.4" r="4.1" fill="none" stroke="#9a00ff" stroke-width="1.7"/>
<line x1="236.1" y1="390.1" x2="236.1" y2="402.1" stroke="#9a00ff" stroke-width="1" stroke-opacity="0.75"/>
<circle cx="236.1" cy="396.1" r="4.1" fill="none" stroke="#9a00ff" stroke-width="1.7"/>
<line x1="232.2" y1="394.6" x2="232.2" y2="406.6" stroke="#9a00ff" stroke-width="1" stroke-opacity="0.75"/>
<circle cx="232.2" cy="400.6" r="4.1" fill="none" stroke="#9a00ff" stroke-width="1.7"/>
<line x1="235.4" y1="400.5" x2="235.4" y2="412.5" stroke="#9a00ff" stroke-width="1" stroke-opacity="0.75"/>
<circle cx="235.4" cy="406.5" r="4.1" fill="none" stroke="#9a00ff" stroke-width="1.7"/>
<line x1="234.1" y1="406.7" x2="234.1" y2="420.7" stroke="#9a00ff" stroke-width="1" stroke-opacity="0.75"/>
<circle cx="234.1" cy="413.7" r="4.1" fill="none" stroke="#9a00ff" stroke-width="1.7"/>
<line x1="261.5" y1="392.4" x2="261.5" y2="402.4" stroke="#9a00ff" stroke-width="1" stroke-opacity="0.75"/>
<circle cx="261.5" cy="397.4" r="4.1" fill="none" stroke="#9a00ff" stroke-width="1.7"/>
<line x1="258.9" y1="374.8" x2="258.9" y2="384.8" stroke="#9a00ff" stroke-width="1" stroke-opacity="0.75"/>
<circle cx="258.9" cy="379.8" r="4.1" fill="none" stroke="#9a00ff" stroke-width="1.7"/>
<line x1="270.0" y1="380.6" x2="270.0" y2="390.6" stroke="#9a00ff" stroke-width="1" stroke-opacity="0.75"/>
<circle cx="270.0" cy="385.6" r="4.1" fill="none" stroke="#9a00ff" stroke-width="1.7"/>
<line x1="277.1" y1="391.7" x2="277.1" y2="401.7" stroke="#9a00ff" stroke-width="1" stroke-opacity="0.75"/>
<circle cx="277.1" cy="396.7" r="4.1" fill="none" stroke="#9a00ff" stroke-width="1.7"/>
<line x1="256.2" y1="356.0" x2="256.2" y2="374.0" stroke="#9a00ff" stroke-width="1" stroke-opacity="0.75"/>
<circle cx="256.2" cy="365.0" r="4.1" fill="none" stroke="#9a00ff" stroke-width="1.7"/>
<line x1="265.0" y1="359.7" x2="265.0" y2="377.7" stroke="#9a00ff" stroke-width="1" stroke-opacity="0.75"/>
<circle cx="265.0" cy="368.7" r="4.1" fill="none" stroke="#9a00ff" stroke-width="1.7"/>
<line x1="260.9" y1="369.5" x2="260.9" y2="381.5" stroke="#9a00ff" stroke-width="1" stroke-opacity="0.75"/>
<circle cx="260.9" cy="375.5" r="4.1" fill="none" stroke="#9a00ff" stroke-width="1.7"/>
<line x1="259.3" y1="375.7" x2="259.3" y2="385.7" stroke="#9a00ff" stroke-width="1" stroke-opacity="0.75"/>
<circle cx="259.3" cy="380.7" r="4.1" fill="none" stroke="#9a00ff" stroke-width="1.7"/>
<line x1="244.7" y1="380.4" x2="244.7" y2="390.4" stroke="#9a00ff" stroke-width="1" stroke-opacity="0.75"/>
<circle cx="244.7" cy="385.4" r="4.1" fill="none" stroke="#9a00ff" stroke-width="1.7"/>
<line x1="278.6" y1="357.0" x2="278.6" y2="373.0" stroke="#9a00ff" stroke-width="1" stroke-opacity="0.75"/>
<circle cx="278.6" cy="365.0" r="4.1" fill="none" stroke="#9a00ff" stroke-width="1.7"/>
<line x1="280.1" y1="364.2" x2="280.1" y2="376.2" stroke="#9a00ff" stroke-width="1" stroke-opacity="0.75"/>
<circle cx="280.1" cy="370.2" r="4.1" fill="none" stroke="#9a00ff" stroke-width="1.7"/>
<line x1="281.2" y1="367.3" x2="281.2" y2="377.3" stroke="#9a00ff" stroke-width="1" stroke-opacity="0.75"/>
<circle cx="281.2" cy="372.3" r="4.1" fill="none" stroke="#9a00ff" stroke-width="1.7"/>
<line x1="275.5" y1="373.1" x2="275.5" y2="385.1" stroke="#9a00ff" stroke-width="1" stroke-opacity="0.75"/>
<circle cx="275.5" cy="379.1" r="4.1" fill="none" stroke="#9a00ff" stroke-width="1.7"/>
<line x1="278.6" y1="376.7" x2="278.6" y2="386.7" stroke="#9a00ff" stroke-width="1" stroke-opacity="0.75"/>
<circle cx="278.6" cy="381.7" r="4.1" fill="none" stroke="#9a00ff" stroke-width="1.7"/>
<line x1="270.2" y1="378.9" x2="270.2" y2="392.9" stroke="#9a00ff" stroke-width="1" stroke-opacity="0.75"/>
<circle cx="270.2" cy="385.9" r="4.1" fill="none" stroke="#9a00ff" stroke-width="1.7"/>
<line x1="275.5" y1="381.5" x2="275.5" y2="395.5" stroke="#9a00ff" stroke-width="1" stroke-opacity="0.75"/>
<circle cx="275.5" cy="388.5" r="4.1" fill="none" stroke="#9a00ff" stroke-width="1.7"/>
<line x1="278.6" y1="391.3" x2="278.6" y2="401.3" stroke="#9a00ff" stroke-width="1" stroke-opacity="0.75"/>
<circle cx="278.6" cy="396.3" r="4.1" fill="none" stroke="#9a00ff" stroke-width="1.7"/>
<line x1="261.4" y1="391.8" x2="261.4" y2="401.8" stroke="#9a00ff" stroke-width="1" stroke-opacity="0.75"/>
<circle cx="261.4" cy="396.8" r="4.1" fill="none" stroke="#9a00ff" stroke-width="1.7"/>
<line x1="283.3" y1="344.4" x2="283.3" y2="354.4" stroke="#9a00ff" stroke-width="1" stroke-opacity="0.75"/>
<circle cx="283.3" cy="349.4" r="4.1" fill="none" stroke="#9a00ff" stroke-width="1.7"/>
<line x1="288.5" y1="345.4" x2="288.5" y2="355.4" stroke="#9a00ff" stroke-width="1" stroke-opacity="0.75"/>
<circle cx="288.5" cy="350.4" r="4.1" fill="none" stroke="#9a00ff" stroke-width="1.7"/>
<line x1="290.6" y1="349.6" x2="290.6" y2="359.6" stroke="#9a00ff" stroke-width="1" stroke-opacity="0.75"/>
<circle cx="290.6" cy="354.6" r="4.1" fill="none" stroke="#9a00ff" stroke-width="1.7"/>
<line x1="296.3" y1="354.4" x2="296.3" y2="368.4" stroke="#9a00ff" stroke-width="1" stroke-opacity="0.75"/>
<circle cx="296.3" cy="361.4" r="4.1" fill="none" stroke="#9a00ff" stroke-width="1.7"/>
<line x1="298.4" y1="356.4" x2="298.4" y2="366.4" stroke="#9a00ff" stroke-width="1" stroke-opacity="0.75"/>
<circle cx="298.4" cy="361.4" r="4.1" fill="none" stroke="#9a00ff" stroke-width="1.7"/>
<line x1="296.3" y1="369.2" x2="296.3" y2="372.4" stroke="#9a00ff" stroke-width="1" stroke-opacity="0.75"/>
<circle cx="296.3" cy="370.8" r="4.1" fill="none" stroke="#9a00ff" stroke-width="1.7"/>
<line x1="304.7" y1="345.0" x2="304.7" y2="359.0" stroke="#9a00ff" stroke-width="1" stroke-opacity="0.75"/>
<circle cx="304.7" cy="352.0" r="4.1" fill="none" stroke="#9a00ff" stroke-width="1.7"/>
<line x1="307.3" y1="360.8" x2="307.3" y2="364.0" stroke="#9a00ff" stroke-width="1" stroke-opacity="0.75"/>
<circle cx="307.3" cy="362.4" r="4.1" fill="none" stroke="#9a00ff" stroke-width="1.7"/>
<line x1="318.0" y1="308.5" x2="318.0" y2="311.7" stroke="#9a00ff" stroke-width="1" stroke-opacity="0.75"/>
<circle cx="318.0" cy="310.1" r="4.1" fill="none" stroke="#9a00ff" stroke-width="1.7"/>
<line x1="315.9" y1="313.2" x2="315.9" y2="316.4" stroke="#9a00ff" stroke-width="1" stroke-opacity="0.75"/>
<circle cx="315.9" cy="314.8" r="4.1" fill="none" stroke="#9a00ff" stroke-width="1.7"/>
<line x1="326.8" y1="311.4" x2="326.8" y2="321.4" stroke="#9a00ff" stroke-width="1" stroke-opacity="0.75"/>
<circle cx="326.8" cy="316.4" r="4.1" fill="none" stroke="#9a00ff" stroke-width="1.7"/>
<line x1="331.5" y1="357.5" x2="331.5" y2="373.5" stroke="#9a00ff" stroke-width="1" stroke-opacity="0.75"/>
<circle cx="331.5" cy="365.5" r="4.1" fill="none" stroke="#9a00ff" stroke-width="1.7"/>
</g>
<path d="M65.10 530.50v-2.4M65.10 293.50v2.4M75.30 530.50v-2.4M75.30 293.50v2.4M85.50 530.50v-4.6M85.50 293.50v4.6M95.70 530.50v-2.4M95.70 293.50v2.4M105.90 530.50v-2.4M105.90 293.50v2.4M116.10 530.50v-2.4M116.10 293.50v2.4M126.30 530.50v-2.4M126.30 293.50v2.4M136.50 530.50v-4.6M136.50 293.50v4.6M146.70 530.50v-2.4M146.70 293.50v2.4M156.90 530.50v-2.4M156.90 293.50v2.4M167.10 530.50v-2.4M167.10 293.50v2.4M177.30 530.50v-2.4M177.30 293.50v2.4M187.50 530.50v-4.6M187.50 293.50v4.6M197.70 530.50v-2.4M197.70 293.50v2.4M207.90 530.50v-2.4M207.90 293.50v2.4M218.10 530.50v-2.4M218.10 293.50v2.4M228.30 530.50v-2.4M228.30 293.50v2.4M238.50 530.50v-4.6M238.50 293.50v4.6M248.70 530.50v-2.4M248.70 293.50v2.4M258.90 530.50v-2.4M258.90 293.50v2.4M269.10 530.50v-2.4M269.10 293.50v2.4M279.30 530.50v-2.4M279.30 293.50v2.4M289.50 530.50v-4.6M289.50 293.50v4.6M299.70 530.50v-2.4M299.70 293.50v2.4M309.90 530.50v-2.4M309.90 293.50v2.4M320.10 530.50v-2.4M320.10 293.50v2.4M330.30 530.50v-2.4M330.30 293.50v2.4M340.50 530.50v-4.6M340.50 293.50v4.6M350.70 530.50v-2.4M350.70 293.50v2.4M360.90 530.50v-2.4M360.90 293.50v2.4M371.10 530.50v-2.4M371.10 293.50v2.4M381.30 530.50v-2.4M381.30 293.50v2.4M391.50 530.50v-4.6M391.50 293.50v4.6M401.70 530.50v-2.4M401.70 293.50v2.4M56.50 524.46h3.6M411.50 524.46h-3.6M56.50 517.68h3.6M411.50 517.68h-3.6M56.50 510.90h7.0M411.50 510.90h-7.0M56.50 504.12h3.6M411.50 504.12h-3.6M56.50 497.34h3.6M411.50 497.34h-3.6M56.50 490.56h3.6M411.50 490.56h-3.6M56.50 483.78h3.6M411.50 483.78h-3.6M56.50 477.00h7.0M411.50 477.00h-7.0M56.50 470.22h3.6M411.50 470.22h-3.6M56.50 463.44h3.6M411.50 463.44h-3.6M56.50 456.66h3.6M411.50 456.66h-3.6M56.50 449.88h3.6M411.50 449.88h-3.6M56.50 443.10h7.0M411.50 443.10h-7.0M56.50 436.32h3.6M411.50 436.32h-3.6M56.50 429.54h3.6M411.50 429.54h-3.6M56.50 422.76h3.6M411.50 422.76h-3.6M56.50 415.98h3.6M411.50 415.98h-3.6M56.50 409.20h7.0M411.50 409.20h-7.0M56.50 402.42h3.6M411.50 402.42h-3.6M56.50 395.64h3.6M411.50 395.64h-3.6M56.50 388.86h3.6M411.50 388.86h-3.6M56.50 382.08h3.6M411.50 382.08h-3.6M56.50 375.30h7.0M411.50 375.30h-7.0M56.50 368.52h3.6M411.50 368.52h-3.6M56.50 361.74h3.6M411.50 361.74h-3.6M56.50 354.96h3.6M411.50 354.96h-3.6M56.50 348.18h3.6M411.50 348.18h-3.6M56.50 341.40h7.0M411.50 341.40h-7.0M56.50 334.62h3.6M411.50 334.62h-3.6M56.50 327.84h3.6M411.50 327.84h-3.6M56.50 321.06h3.6M411.50 321.06h-3.6M56.50 314.28h3.6M411.50 314.28h-3.6M56.50 307.50h7.0M411.50 307.50h-7.0M56.50 300.72h3.6M411.50 300.72h-3.6M56.50 293.94h3.6M411.50 293.94h-3.6" stroke="#111" stroke-width="0.9" fill="none"/>
<rect x="56.50" y="293.50" width="355.00" height="237.00" fill="none" stroke="#111" stroke-width="0.95"/>
<text x="136.5" y="552.2" font-size="16.00" text-anchor="middle" fill="#000">10</text>
<text x="238.5" y="552.2" font-size="16.00" text-anchor="middle" fill="#000">11</text>
<text x="340.5" y="552.2" font-size="16.00" text-anchor="middle" fill="#000">12</text>
<text x="51.7" y="482.8" font-size="16.00" text-anchor="end" fill="#000">10</text>
<text x="51.7" y="415.0" font-size="16.00" text-anchor="end" fill="#000">11</text>
<text x="51.7" y="347.2" font-size="16.00" text-anchor="end" fill="#000">12</text>
<text x="194.36" y="569.90" font-size="16.50" fill="#000">log(M</text>
<text x="235.62" y="576.70" font-size="10.00" fill="#666">*</text>
<text x="239.81" y="569.90" font-size="16.50" fill="#000">/M</text>
<circle cx="263.6" cy="569.3" r="4.1" fill="none" stroke="#000" stroke-width="1.2"/><circle cx="263.6" cy="569.3" r="1.1" fill="#000"/>
<text x="265.54" y="569.90" font-size="16.50" fill="#000">)</text>
<g transform="translate(20.1 458.3) rotate(-90)">
<text x="0.00" y="0.00" font-size="16.50" fill="#000">log(M</text>
<text x="41.26" y="3.90" font-size="10.80" fill="#000">dyn</text>
<text x="58.67" y="0.00" font-size="16.50" fill="#000">/M</text>
<circle cx="82.5" cy="-0.6" r="4.1" fill="none" stroke="#000" stroke-width="1.2"/><circle cx="82.5" cy="-0.6" r="1.1" fill="#000"/>
<text x="84.40" y="0.00" font-size="16.50" fill="#000">)</text>
</g>
<g clip-path="url(#c4)">
<line x1="472.0" y1="530.5" x2="827.3" y2="293.5" stroke="#000" stroke-width="1.1" stroke-dasharray="7.8 6.8"/>
<rect x="478.6" y="489.9" width="8.4" height="8.4" fill="#000000"/>
<circle cx="481.0" cy="496.8" r="4.4" fill="#000000"/>
<polygon points="499.6,480.5 501.2,485.0 506.0,485.1 502.2,488.0 503.5,492.6 499.6,489.9 495.7,492.6 497.0,488.0 493.2,485.1 498.0,485.0" fill="#000000"/>
<rect x="497.6" y="476.8" width="8.4" height="8.4" fill="#000000"/>
<polygon points="510.9,478.1 515.7,486.9 506.1,486.9" fill="#000000"/>
<rect x="505.5" y="469.8" width="8.0" height="8.0" fill="none" stroke="#000000" stroke-width="1.0"/>
<rect x="508.0" y="467.8" width="8.4" height="8.4" fill="#000000"/>
<rect x="514.6" y="464.3" width="8.0" height="8.0" fill="none" stroke="#000000" stroke-width="1.0"/>
<polygon points="519.5,465.1 521.1,469.6 525.9,469.7 522.1,472.6 523.4,477.2 519.5,474.6 515.6,477.2 516.9,472.6 513.1,469.7 517.9,469.6" fill="#000000"/>
<rect x="525.7" y="463.2" width="8.4" height="8.4" fill="#000000"/>
<circle cx="534.4" cy="471.5" r="4.4" fill="#000000"/>
<rect x="530.6" y="452.8" width="8.4" height="8.4" fill="#000000"/>
<rect x="535.4" y="455.3" width="8.0" height="8.0" fill="none" stroke="#000000" stroke-width="1.0"/>
<rect x="523.6" y="477.5" width="8.0" height="8.0" fill="none" stroke="#000000" stroke-width="1.0"/>
<rect x="529.3" y="477.3" width="8.4" height="8.4" fill="#000000"/>
<rect x="534.0" y="474.7" width="8.0" height="8.0" fill="none" stroke="#000000" stroke-width="1.0"/>
<rect x="536.3" y="464.3" width="8.4" height="8.4" fill="#000000"/>
<rect x="540.8" y="461.3" width="8.4" height="8.4" fill="#000000"/>
<rect x="544.8" y="457.8" width="8.4" height="8.4" fill="#000000"/>
<rect x="548.8" y="460.3" width="8.4" height="8.4" fill="#000000"/>
<circle cx="547.0" cy="469.0" r="4.4" fill="#000000"/>
<rect x="548.3" y="453.8" width="8.4" height="8.4" fill="#000000"/>
<rect x="552.8" y="450.8" width="8.4" height="8.4" fill="#000000"/>
<rect x="546.8" y="463.8" width="8.4" height="8.4" fill="#000000"/>
<rect x="546.5" y="470.0" width="8.0" height="8.0" fill="none" stroke="#000000" stroke-width="1.0"/>
<rect x="545.4" y="449.7" width="8.0" height="8.0" fill="none" stroke="#000000" stroke-width="1.0"/>
<rect x="552.2" y="443.8" width="8.0" height="8.0" fill="none" stroke="#000000" stroke-width="1.0"/>
<rect x="557.2" y="441.1" width="8.0" height="8.0" fill="none" stroke="#000000" stroke-width="1.0"/>
<rect x="560.4" y="439.8" width="8.0" height="8.0" fill="none" stroke="#000000" stroke-width="1.0"/>
<rect x="566.7" y="436.6" width="8.0" height="8.0" fill="none" stroke="#000000" stroke-width="1.0"/>
<rect x="577.1" y="428.9" width="8.0" height="8.0" fill="none" stroke="#000000" stroke-width="1.0"/>
<rect x="581.2" y="428.9" width="8.0" height="8.0" fill="none" stroke="#000000" stroke-width="1.0"/>
<rect x="591.6" y="425.8" width="8.0" height="8.0" fill="none" stroke="#000000" stroke-width="1.0"/>
<rect x="556.3" y="442.9" width="8.0" height="8.0" fill="none" stroke="#000000" stroke-width="1.0"/>
<rect x="558.0" y="442.0" width="8.0" height="8.0" fill="none" stroke="#000000" stroke-width="1.0"/>
<rect x="563.1" y="436.2" width="8.0" height="8.0" fill="none" stroke="#000000" stroke-width="1.0"/>
<rect x="561.8" y="446.3" width="8.4" height="8.4" fill="#000000"/>
<rect x="566.8" y="443.8" width="8.4" height="8.4" fill="#000000"/>
<rect x="570.8" y="440.8" width="8.4" height="8.4" fill="#000000"/>
<circle cx="570.0" cy="453.5" r="4.4" fill="#000000"/>
<polygon points="568.0,454.3 572.8,463.1 563.2,463.1" fill="#000000"/>
<rect x="575.8" y="437.8" width="8.4" height="8.4" fill="#000000"/>
<circle cx="574.0" cy="450.0" r="4.4" fill="#000000"/>
<polygon points="577.9,442.3 579.5,446.8 584.3,446.9 580.5,449.8 581.8,454.4 577.9,451.8 574.0,454.4 575.3,449.8 571.5,446.9 576.3,446.8" fill="#000000"/>
<polygon points="586.0,438.7 587.6,443.2 592.4,443.3 588.6,446.2 589.9,450.8 586.0,448.2 582.1,450.8 583.4,446.2 579.6,443.3 584.4,443.2" fill="#000000"/>
<polygon points="583.3,448.7 584.9,453.2 589.7,453.3 585.9,456.2 587.2,460.8 583.3,458.2 579.4,460.8 580.7,456.2 576.9,453.3 581.7,453.2" fill="#000000"/>
<circle cx="562.5" cy="459.1" r="4.4" fill="#000000"/>
<circle cx="591.4" cy="434.3" r="4.4" fill="#000000"/>
<circle cx="599.2" cy="435.0" r="4.4" fill="#000000"/>
<polygon points="603.1,419.7 604.7,424.2 609.5,424.3 605.7,427.2 607.0,431.8 603.1,429.2 599.2,431.8 600.5,427.2 596.7,424.3 601.5,424.2" fill="#000000"/>
<rect x="606.4" y="425.4" width="8.4" height="8.4" fill="#000000"/>
<polygon points="632.2,413.4 637.0,422.2 627.4,422.2" fill="#000000"/>
<circle cx="624.1" cy="419.1" r="4.4" fill="#000000"/>
<rect x="623.0" y="406.4" width="8.0" height="8.0" fill="none" stroke="#000000" stroke-width="1.0"/>
<polygon points="627.5,404.6 629.1,409.1 633.9,409.2 630.1,412.1 631.4,416.7 627.5,414.1 623.6,416.7 624.9,412.1 621.1,409.2 625.9,409.1" fill="#000000"/>
<rect x="629.2" y="405.6" width="8.4" height="8.4" fill="#000000"/>
<rect x="626.8" y="409.3" width="8.4" height="8.4" fill="#000000"/>
<circle cx="642.7" cy="405.7" r="4.4" fill="#000000"/>
<polygon points="643.9,406.4 648.7,415.2 639.1,415.2" fill="#000000"/>
<polygon points="650.9,398.2 655.7,407.0 646.1,407.0" fill="#000000"/>
<polygon points="652.0,391.2 653.6,395.7 658.4,395.8 654.6,398.7 655.9,403.3 652.0,400.7 648.1,403.3 649.4,398.7 645.6,395.8 650.4,395.7" fill="#000000"/>
<rect x="655.0" y="400.7" width="8.0" height="8.0" fill="none" stroke="#000000" stroke-width="1.0"/>
<rect x="663.6" y="386.6" width="8.4" height="8.4" fill="#000000"/>
<circle cx="662.2" cy="396.2" r="4.4" fill="#000000"/>
<rect x="662.4" y="390.3" width="8.4" height="8.4" fill="#000000"/>
<rect x="670.8" y="393.8" width="8.4" height="8.4" fill="#000000"/>
<rect x="669.1" y="389.7" width="8.0" height="8.0" fill="none" stroke="#000000" stroke-width="1.0"/>
<rect x="678.8" y="387.2" width="8.4" height="8.4" fill="#000000"/>
<polygon points="680.1,374.5 681.7,379.0 686.5,379.1 682.7,382.0 684.0,386.6 680.1,383.9 676.2,386.6 677.5,382.0 673.7,379.1 678.5,379.0" fill="#000000"/>
<rect x="686.9" y="381.4" width="8.4" height="8.4" fill="#000000"/>
<circle cx="691.1" cy="380.3" r="4.4" fill="#000000"/>
<rect x="690.4" y="372.6" width="8.4" height="8.4" fill="#000000"/>
<polygon points="706.2,354.6 711.0,363.4 701.4,363.4" fill="#000000"/>
<polygon points="708.5,357.2 710.1,361.7 714.9,361.8 711.1,364.7 712.4,369.3 708.5,366.7 704.6,369.3 705.9,364.7 702.1,361.8 706.9,361.7" fill="#000000"/>
<rect x="716.1" y="354.8" width="8.4" height="8.4" fill="#000000"/>
<rect x="723.2" y="359.2" width="8.0" height="8.0" fill="none" stroke="#000000" stroke-width="1.0"/>
<rect x="730.6" y="351.1" width="8.4" height="8.4" fill="#000000"/>
<rect x="736.6" y="357.2" width="8.0" height="8.0" fill="none" stroke="#000000" stroke-width="1.0"/>
<polygon points="750.8,331.4 752.4,335.9 757.2,336.0 753.4,338.9 754.7,343.5 750.8,340.9 746.9,343.5 748.2,338.9 744.4,336.0 749.2,335.9" fill="#000000"/>
<polygon points="754.9,330.5 756.5,335.0 761.3,335.1 757.5,338.0 758.8,342.6 754.9,339.9 751.0,342.6 752.3,338.0 748.5,335.1 753.3,335.0" fill="#000000"/>
<rect x="753.3" y="332.8" width="8.4" height="8.4" fill="#000000"/>
<polygon points="763.0,342.1 767.8,333.3 758.2,333.3" fill="#000000"/>
<circle cx="767.5" cy="334.2" r="4.4" fill="#000000"/>
<rect x="771.9" y="324.6" width="8.4" height="8.4" fill="#000000"/>
<rect x="774.7" y="327.8" width="8.4" height="8.4" fill="#000000"/>
<rect x="772.8" y="331.4" width="8.4" height="8.4" fill="#000000"/>
<rect x="761.1" y="349.9" width="8.4" height="8.4" fill="#000000"/>
<line x1="472.0" y1="502.6" x2="827.3" y2="303.9" stroke="#000" stroke-width="1.9"/>
<polygon points="557.1,424.3 558.7,428.4 563.2,428.7 559.8,431.6 560.9,435.9 557.1,433.5 553.3,435.9 554.4,431.6 551.0,428.7 555.5,428.4" fill="none" stroke="#ff0000" stroke-width="1.6" stroke-linejoin="miter" stroke-miterlimit="2.4"/>
<polygon points="519.5,455.2 521.1,459.3 525.6,459.6 522.2,462.5 523.3,466.8 519.5,464.4 515.7,466.8 516.8,462.5 513.4,459.6 517.9,459.3" fill="none" stroke="#ff0000" stroke-width="1.6" stroke-linejoin="miter" stroke-miterlimit="2.4"/>
<polygon points="524.8,447.3 526.4,451.4 530.9,451.7 527.5,454.6 528.6,458.9 524.8,456.5 521.0,458.9 522.1,454.6 518.7,451.7 523.2,451.4" fill="none" stroke="#ff0000" stroke-width="1.6" stroke-linejoin="miter" stroke-miterlimit="2.4"/>
<polygon points="539.8,451.3 541.4,455.4 545.9,455.7 542.5,458.6 543.6,462.9 539.8,460.5 536.0,462.9 537.1,458.6 533.7,455.7 538.2,455.4" fill="none" stroke="#ff0000" stroke-width="1.6" stroke-linejoin="miter" stroke-miterlimit="2.4"/>
<polygon points="550.8,460.4 552.4,464.5 556.9,464.8 553.5,467.7 554.6,472.0 550.8,469.6 547.0,472.0 548.1,467.7 544.7,464.8 549.2,464.5" fill="none" stroke="#ff0000" stroke-width="1.6" stroke-linejoin="miter" stroke-miterlimit="2.4"/>
<polygon points="559.3,439.5 560.9,443.6 565.4,443.9 562.0,446.8 563.1,451.1 559.3,448.7 555.5,451.1 556.6,446.8 553.2,443.9 557.7,443.6" fill="none" stroke="#ff0000" stroke-width="1.6" stroke-linejoin="miter" stroke-miterlimit="2.4"/>
<polygon points="567.1,442.1 568.7,446.2 573.2,446.5 569.8,449.4 570.9,453.7 567.1,451.3 563.3,453.7 564.4,449.4 561.0,446.5 565.5,446.2" fill="none" stroke="#ff0000" stroke-width="1.6" stroke-linejoin="miter" stroke-miterlimit="2.4"/>
<polygon points="590.0,398.2 591.6,402.3 596.1,402.6 592.7,405.5 593.8,409.8 590.0,407.4 586.2,409.8 587.3,405.5 583.9,402.6 588.4,402.3" fill="none" stroke="#ff0000" stroke-width="1.6" stroke-linejoin="miter" stroke-miterlimit="2.4"/>
<polygon points="635.0,401.1 636.6,405.2 641.1,405.5 637.7,408.4 638.8,412.7 635.0,410.3 631.2,412.7 632.3,408.4 628.9,405.5 633.4,405.2" fill="none" stroke="#ff0000" stroke-width="1.6" stroke-linejoin="miter" stroke-miterlimit="2.4"/>
<polygon points="648.0,410.2 649.6,414.3 654.1,414.6 650.7,417.5 651.8,421.8 648.0,419.4 644.2,421.8 645.3,417.5 641.9,414.6 646.4,414.3" fill="none" stroke="#ff0000" stroke-width="1.6" stroke-linejoin="miter" stroke-miterlimit="2.4"/>
<polygon points="696.1,361.3 697.7,365.4 702.2,365.7 698.8,368.6 699.9,372.9 696.1,370.5 692.3,372.9 693.4,368.6 690.0,365.7 694.5,365.4" fill="none" stroke="#ff0000" stroke-width="1.6" stroke-linejoin="miter" stroke-miterlimit="2.4"/>
<polygon points="698.0,376.9 699.6,381.0 704.1,381.3 700.7,384.2 701.8,388.5 698.0,386.1 694.2,388.5 695.3,384.2 691.9,381.3 696.4,381.0" fill="none" stroke="#ff0000" stroke-width="1.6" stroke-linejoin="miter" stroke-miterlimit="2.4"/>
<polygon points="807.3,332.4 808.9,336.5 813.4,336.8 810.0,339.7 811.1,344.0 807.3,341.6 803.5,344.0 804.6,339.7 801.2,336.8 805.7,336.5" fill="none" stroke="#ff0000" stroke-width="1.6" stroke-linejoin="miter" stroke-miterlimit="2.4"/>
<polygon points="818.7,332.9 820.3,337.0 824.8,337.3 821.4,340.2 822.5,344.5 818.7,342.1 814.9,344.5 816.0,340.2 812.6,337.3 817.1,337.0" fill="none" stroke="#ff0000" stroke-width="1.6" stroke-linejoin="miter" stroke-miterlimit="2.4"/>
<polygon points="775.0,334.1 776.6,338.2 781.1,338.5 777.7,341.4 778.8,345.7 775.0,343.3 771.2,345.7 772.3,341.4 768.9,338.5 773.4,338.2" fill="none" stroke="#ff0000" stroke-width="1.6" stroke-linejoin="miter" stroke-miterlimit="2.4"/>
<polygon points="766.4,341.8 768.0,345.9 772.5,346.2 769.1,349.1 770.2,353.4 766.4,351.0 762.6,353.4 763.7,349.1 760.3,346.2 764.8,345.9" fill="none" stroke="#ff0000" stroke-width="1.6" stroke-linejoin="miter" stroke-miterlimit="2.4"/>
<polygon points="774.1,341.8 775.7,345.9 780.2,346.2 776.8,349.1 777.9,353.4 774.1,351.0 770.3,353.4 771.4,349.1 768.0,346.2 772.5,345.9" fill="none" stroke="#ff0000" stroke-width="1.6" stroke-linejoin="miter" stroke-miterlimit="2.4"/>
<polygon points="712.3,351.2 713.9,355.3 718.4,355.6 715.0,358.5 716.1,362.8 712.3,360.4 708.5,362.8 709.6,358.5 706.2,355.6 710.7,355.3" fill="none" stroke="#ff0000" stroke-width="1.6" stroke-linejoin="miter" stroke-miterlimit="2.4"/>
<polygon points="732.4,350.3 734.0,354.4 738.5,354.7 735.1,357.6 736.2,361.9 732.4,359.5 728.6,361.9 729.7,357.6 726.3,354.7 730.8,354.4" fill="none" stroke="#ff0000" stroke-width="1.6" stroke-linejoin="miter" stroke-miterlimit="2.4"/>
<polygon points="746.8,363.1 748.4,367.2 752.9,367.5 749.5,370.4 750.6,374.7 746.8,372.3 743.0,374.7 744.1,370.4 740.7,367.5 745.2,367.2" fill="none" stroke="#ff0000" stroke-width="1.6" stroke-linejoin="miter" stroke-miterlimit="2.4"/>
<line x1="493.6" y1="496.9" x2="493.6" y2="500.1" stroke="#9a00ff" stroke-width="1" stroke-opacity="0.75"/>
<circle cx="493.6" cy="498.5" r="4.1" fill="none" stroke="#9a00ff" stroke-width="1.7"/>
<line x1="606.3" y1="481.4" x2="606.3" y2="491.4" stroke="#9a00ff" stroke-width="1" stroke-opacity="0.75"/>
<circle cx="606.3" cy="486.4" r="4.1" fill="none" stroke="#9a00ff" stroke-width="1.7"/>
<line x1="514.7" y1="471.3" x2="514.7" y2="474.5" stroke="#9a00ff" stroke-width="1" stroke-opacity="0.75"/>
<circle cx="514.7" cy="472.9" r="4.1" fill="none" stroke="#9a00ff" stroke-width="1.7"/>
<line x1="509.4" y1="445.5" x2="509.4" y2="468.5" stroke="#9a00ff" stroke-width="1" stroke-opacity="0.75"/>
<circle cx="509.4" cy="457.0" r="4.1" fill="none" stroke="#9a00ff" stroke-width="1.7"/>
<line x1="522.3" y1="449.8" x2="522.3" y2="453.0" stroke="#9a00ff" stroke-width="1" stroke-opacity="0.75"/>
<circle cx="522.3" cy="451.4" r="4.1" fill="none" stroke="#9a00ff" stroke-width="1.7"/>
<line x1="527.0" y1="454.8" x2="527.0" y2="468.8" stroke="#9a00ff" stroke-width="1" stroke-opacity="0.75"/>
<circle cx="527.0" cy="461.8" r="4.1" fill="none" stroke="#9a00ff" stroke-width="1.7"/>
<line x1="527.4" y1="459.0" x2="527.4" y2="475.0" stroke="#9a00ff" stroke-width="1" stroke-opacity="0.75"/>
<circle cx="527.4" cy="467.0" r="4.1" fill="none" stroke="#9a00ff" stroke-width="1.7"/>
<line x1="536.8" y1="457.7" x2="536.8" y2="469.7" stroke="#9a00ff" stroke-width="1" stroke-opacity="0.75"/>
<circle cx="536.8" cy="463.7" r="4.1" fill="none" stroke="#9a00ff" stroke-width="1.7"/>
<line x1="550.2" y1="434.0" x2="550.2" y2="458.0" stroke="#9a00ff" stroke-width="1" stroke-opacity="0.75"/>
<circle cx="550.2" cy="446.0" r="4.1" fill="none" stroke="#9a00ff" stroke-width="1.7"/>
<line x1="570.0" y1="432.0" x2="570.0" y2="446.0" stroke="#9a00ff" stroke-width="1" stroke-opacity="0.75"/>
<circle cx="570.0" cy="439.0" r="4.1" fill="none" stroke="#9a00ff" stroke-width="1.7"/>
<line x1="610.6" y1="381.4" x2="610.6" y2="400.9" stroke="#9a00ff" stroke-width="1" stroke-opacity="0.75"/>
<circle cx="610.6" cy="393.9" r="4.1" fill="none" stroke="#9a00ff" stroke-width="1.7"/>
<line x1="633.4" y1="352.4" x2="633.4" y2="377.2" stroke="#9a00ff" stroke-width="1" stroke-opacity="0.75"/>
<circle cx="633.4" cy="364.8" r="4.1" fill="none" stroke="#9a00ff" stroke-width="1.7"/>
<line x1="606.9" y1="399.3" x2="606.9" y2="409.3" stroke="#9a00ff" stroke-width="1" stroke-opacity="0.75"/>
<circle cx="606.9" cy="404.3" r="4.1" fill="none" stroke="#9a00ff" stroke-width="1.7"/>
<line x1="612.8" y1="395.1" x2="612.8" y2="407.1" stroke="#9a00ff" stroke-width="1" stroke-opacity="0.75"/>
<circle cx="612.8" cy="401.1" r="4.1" fill="none" stroke="#9a00ff" stroke-width="1.7"/>
<line x1="620.2" y1="399.5" x2="620.2" y2="402.7" stroke="#9a00ff" stroke-width="1" stroke-opacity="0.75"/>
<circle cx="620.2" cy="401.1" r="4.1" fill="none" stroke="#9a00ff" stroke-width="1.7"/>
<line x1="629.8" y1="391.5" x2="629.8" y2="401.5" stroke="#9a00ff" stroke-width="1" stroke-opacity="0.75"/>
<circle cx="629.8" cy="396.5" r="4.1" fill="none" stroke="#9a00ff" stroke-width="1.7"/>
<line x1="616.7" y1="408.1" x2="616.7" y2="420.1" stroke="#9a00ff" stroke-width="1" stroke-opacity="0.75"/>
<circle cx="616.7" cy="414.1" r="4.1" fill="none" stroke="#9a00ff" stroke-width="1.7"/>
<line x1="623.9" y1="413.0" x2="623.9" y2="423.0" stroke="#9a00ff" stroke-width="1" stroke-opacity="0.75"/>
<circle cx="623.9" cy="418.0" r="4.1" fill="none" stroke="#9a00ff" stroke-width="1.7"/>
<line x1="628.5" y1="410.4" x2="628.5" y2="420.4" stroke="#9a00ff" stroke-width="1" stroke-opacity="0.75"/>
<circle cx="628.5" cy="415.4" r="4.1" fill="none" stroke="#9a00ff" stroke-width="1.7"/>
<line x1="633.7" y1="402.9" x2="633.7" y2="414.9" stroke="#9a00ff" stroke-width="1" stroke-opacity="0.75"/>
<circle cx="633.7" cy="408.9" r="4.1" fill="none" stroke="#9a00ff" stroke-width="1.7"/>
<line x1="635.0" y1="396.8" x2="635.0" y2="432.8" stroke="#9a00ff" stroke-width="1" stroke-opacity="0.75"/>
<circle cx="635.0" cy="414.8" r="4.1" fill="none" stroke="#9a00ff" stroke-width="1.7"/>
<line x1="619.3" y1="421.2" x2="619.3" y2="433.2" stroke="#9a00ff" stroke-width="1" stroke-opacity="0.75"/>
<circle cx="619.3" cy="427.2" r="4.1" fill="none" stroke="#9a00ff" stroke-width="1.7"/>
<line x1="614.8" y1="436.5" x2="614.8" y2="446.5" stroke="#9a00ff" stroke-width="1" stroke-opacity="0.75"/>
<circle cx="614.8" cy="441.5" r="4.1" fill="none" stroke="#9a00ff" stroke-width="1.7"/>
<line x1="641.5" y1="441.7" x2="641.5" y2="451.7" stroke="#9a00ff" stroke-width="1" stroke-opacity="0.75"/>
<circle cx="641.5" cy="446.7" r="4.1" fill="none" stroke="#9a00ff" stroke-width="1.7"/>
<line x1="584.1" y1="415.2" x2="584.1" y2="431.2" stroke="#9a00ff" stroke-width="1" stroke-opacity="0.75"/>
<circle cx="584.1" cy="423.2" r="4.1" fill="none" stroke="#9a00ff" stroke-width="1.7"/>
<line x1="590.6" y1="420.5" x2="590.6" y2="432.5" stroke="#9a00ff" stroke-width="1" stroke-opacity="0.75"/>
<circle cx="590.6" cy="426.5" r="4.1" fill="none" stroke="#9a00ff" stroke-width="1.7"/>
<line x1="590.6" y1="423.8" x2="590.6" y2="435.8" stroke="#9a00ff" stroke-width="1" stroke-opacity="0.75"/>
<circle cx="590.6" cy="429.8" r="4.1" fill="none" stroke="#9a00ff" stroke-width="1.7"/>
<line x1="582.2" y1="428.3" x2="582.2" y2="440.3" stroke="#9a00ff" stroke-width="1" stroke-opacity="0.75"/>
<circle cx="582.2" cy="434.3" r="4.1" fill="none" stroke="#9a00ff" stroke-width="1.7"/>
<line x1="651.3" y1="388.9" x2="651.3" y2="398.9" stroke="#9a00ff" stroke-width="1" stroke-opacity="0.75"/>
<circle cx="651.3" cy="393.9" r="4.1" fill="none" stroke="#9a00ff" stroke-width="1.7"/>
<line x1="655.2" y1="390.9" x2="655.2" y2="400.9" stroke="#9a00ff" stroke-width="1" stroke-opacity="0.75"/>
<circle cx="655.2" cy="395.9" r="4.1" fill="none" stroke="#9a00ff" stroke-width="1.7"/>
<line x1="653.9" y1="391.7" x2="653.9" y2="411.7" stroke="#9a00ff" stroke-width="1" stroke-opacity="0.75"/>
<circle cx="653.9" cy="401.7" r="4.1" fill="none" stroke="#9a00ff" stroke-width="1.7"/>
<line x1="668.4" y1="368.6" x2="668.4" y2="371.8" stroke="#9a00ff" stroke-width="1" stroke-opacity="0.75"/>
<circle cx="668.4" cy="370.2" r="4.1" fill="none" stroke="#9a00ff" stroke-width="1.7"/>
<line x1="666.1" y1="376.5" x2="666.1" y2="390.5" stroke="#9a00ff" stroke-width="1" stroke-opacity="0.75"/>
<circle cx="666.1" cy="383.5" r="4.1" fill="none" stroke="#9a00ff" stroke-width="1.7"/>
<line x1="650.4" y1="381.0" x2="650.4" y2="395.0" stroke="#9a00ff" stroke-width="1" stroke-opacity="0.75"/>
<circle cx="650.4" cy="388.0" r="4.1" fill="none" stroke="#9a00ff" stroke-width="1.7"/>
<line x1="658.3" y1="383.0" x2="658.3" y2="393.0" stroke="#9a00ff" stroke-width="1" stroke-opacity="0.75"/>
<circle cx="658.3" cy="388.0" r="4.1" fill="none" stroke="#9a00ff" stroke-width="1.7"/>
<line x1="652.4" y1="388.6" x2="652.4" y2="400.6" stroke="#9a00ff" stroke-width="1" stroke-opacity="0.75"/>
<circle cx="652.4" cy="394.6" r="4.1" fill="none" stroke="#9a00ff" stroke-width="1.7"/>
<line x1="667.4" y1="386.6" x2="667.4" y2="398.6" stroke="#9a00ff" stroke-width="1" stroke-opacity="0.75"/>
<circle cx="667.4" cy="392.6" r="4.1" fill="none" stroke="#9a00ff" stroke-width="1.7"/>
<line x1="666.1" y1="400.0" x2="666.1" y2="410.0" stroke="#9a00ff" stroke-width="1" stroke-opacity="0.75"/>
<circle cx="666.1" cy="405.0" r="4.1" fill="none" stroke="#9a00ff" stroke-width="1.7"/>
<line x1="675.2" y1="394.0" x2="675.2" y2="416.0" stroke="#9a00ff" stroke-width="1" stroke-opacity="0.75"/>
<circle cx="675.2" cy="405.0" r="4.1" fill="none" stroke="#9a00ff" stroke-width="1.7"/>
<line x1="678.5" y1="364.2" x2="678.5" y2="397.2" stroke="#9a00ff" stroke-width="1" stroke-opacity="0.75"/>
<circle cx="678.5" cy="393.2" r="4.1" fill="none" stroke="#9a00ff" stroke-width="1.7"/>
<line x1="681.7" y1="385.9" x2="681.7" y2="397.9" stroke="#9a00ff" stroke-width="1" stroke-opacity="0.75"/>
<circle cx="681.7" cy="391.9" r="4.1" fill="none" stroke="#9a00ff" stroke-width="1.7"/>
<line x1="685.0" y1="379.4" x2="685.0" y2="391.4" stroke="#9a00ff" stroke-width="1" stroke-opacity="0.75"/>
<circle cx="685.0" cy="385.4" r="4.1" fill="none" stroke="#9a00ff" stroke-width="1.7"/>
<line x1="685.6" y1="369.9" x2="685.6" y2="383.9" stroke="#9a00ff" stroke-width="1" stroke-opacity="0.75"/>
<circle cx="685.6" cy="376.9" r="4.1" fill="none" stroke="#9a00ff" stroke-width="1.7"/>
<line x1="709.1" y1="365.1" x2="709.1" y2="377.1" stroke="#9a00ff" stroke-width="1" stroke-opacity="0.75"/>
<circle cx="709.1" cy="371.1" r="4.1" fill="none" stroke="#9a00ff" stroke-width="1.7"/>
<line x1="710.4" y1="375.2" x2="710.4" y2="385.2" stroke="#9a00ff" stroke-width="1" stroke-opacity="0.75"/>
<circle cx="710.4" cy="380.2" r="4.1" fill="none" stroke="#9a00ff" stroke-width="1.7"/>
<line x1="707.1" y1="387.1" x2="707.1" y2="390.3" stroke="#9a00ff" stroke-width="1" stroke-opacity="0.75"/>
<circle cx="707.1" cy="388.7" r="4.1" fill="none" stroke="#9a00ff" stroke-width="1.7"/>
<line x1="715.6" y1="382.0" x2="715.6" y2="394.0" stroke="#9a00ff" stroke-width="1" stroke-opacity="0.75"/>
<circle cx="715.6" cy="388.0" r="4.1" fill="none" stroke="#9a00ff" stroke-width="1.7"/>
<line x1="718.2" y1="374.4" x2="718.2" y2="396.4" stroke="#9a00ff" stroke-width="1" stroke-opacity="0.75"/>
<circle cx="718.2" cy="385.4" r="4.1" fill="none" stroke="#9a00ff" stroke-width="1.7"/>
<line x1="730.0" y1="350.0" x2="730.0" y2="368.0" stroke="#9a00ff" stroke-width="1" stroke-opacity="0.75"/>
<circle cx="730.0" cy="363.0" r="4.1" fill="none" stroke="#9a00ff" stroke-width="1.7"/>
<line x1="737.5" y1="368.2" x2="737.5" y2="389.2" stroke="#9a00ff" stroke-width="1" stroke-opacity="0.75"/>
<circle cx="737.5" cy="372.2" r="4.1" fill="none" stroke="#9a00ff" stroke-width="1.7"/>
<line x1="641.3" y1="404.8" x2="641.3" y2="424.8" stroke="#9a00ff" stroke-width="1" stroke-opacity="0.75"/>
<circle cx="641.3" cy="414.8" r="4.1" fill="none" stroke="#9a00ff" stroke-width="1.7"/>
<line x1="826.0" y1="326.5" x2="826.0" y2="329.7" stroke="#9a00ff" stroke-width="1" stroke-opacity="0.75"/>
<circle cx="826.0" cy="328.1" r="4.1" fill="none" stroke="#9a00ff" stroke-width="1.7"/>
<line x1="783.8" y1="338.4" x2="783.8" y2="348.4" stroke="#9a00ff" stroke-width="1" stroke-opacity="0.75"/>
<circle cx="783.8" cy="343.4" r="4.1" fill="none" stroke="#9a00ff" stroke-width="1.7"/>
<line x1="763.0" y1="370.1" x2="763.0" y2="397.1" stroke="#9a00ff" stroke-width="1" stroke-opacity="0.75"/>
<circle cx="763.0" cy="374.1" r="4.1" fill="none" stroke="#9a00ff" stroke-width="1.7"/>
<line x1="767.6" y1="371.2" x2="767.6" y2="387.2" stroke="#9a00ff" stroke-width="1" stroke-opacity="0.75"/>
<circle cx="767.6" cy="379.2" r="4.1" fill="none" stroke="#9a00ff" stroke-width="1.7"/>
</g>
<path d="M472.07 530.50v-2.4M472.07 293.50v2.4M487.51 530.50v-4.6M487.51 293.50v4.6M502.96 530.50v-2.4M502.96 293.50v2.4M518.40 530.50v-2.4M518.40 293.50v2.4M533.85 530.50v-2.4M533.85 293.50v2.4M549.29 530.50v-2.4M549.29 293.50v2.4M564.74 530.50v-4.6M564.74 293.50v4.6M580.19 530.50v-2.4M580.19 293.50v2.4M595.63 530.50v-2.4M595.63 293.50v2.4M611.08 530.50v-2.4M611.08 293.50v2.4M626.52 530.50v-2.4M626.52 293.50v2.4M641.97 530.50v-4.6M641.97 293.50v4.6M657.41 530.50v-2.4M657.41 293.50v2.4M672.86 530.50v-2.4M672.86 293.50v2.4M688.30 530.50v-2.4M688.30 293.50v2.4M703.75 530.50v-2.4M703.75 293.50v2.4M719.19 530.50v-4.6M719.19 293.50v4.6M734.63 530.50v-2.4M734.63 293.50v2.4M750.08 530.50v-2.4M750.08 293.50v2.4M765.52 530.50v-2.4M765.52 293.50v2.4M780.97 530.50v-2.4M780.97 293.50v2.4M796.41 530.50v-4.6M796.41 293.50v4.6M811.86 530.50v-2.4M811.86 293.50v2.4M827.31 530.50v-2.4M827.31 293.50v2.4M472.00 530.49h3.6M827.30 530.49h-3.6M472.00 520.19h7.0M827.30 520.19h-7.0M472.00 509.89h3.6M827.30 509.89h-3.6M472.00 499.58h3.6M827.30 499.58h-3.6M472.00 489.28h3.6M827.30 489.28h-3.6M472.00 478.97h3.6M827.30 478.97h-3.6M472.00 468.67h7.0M827.30 468.67h-7.0M472.00 458.37h3.6M827.30 458.37h-3.6M472.00 448.06h3.6M827.30 448.06h-3.6M472.00 437.76h3.6M827.30 437.76h-3.6M472.00 427.45h3.6M827.30 427.45h-3.6M472.00 417.15h7.0M827.30 417.15h-7.0M472.00 406.85h3.6M827.30 406.85h-3.6M472.00 396.54h3.6M827.30 396.54h-3.6M472.00 386.24h3.6M827.30 386.24h-3.6M472.00 375.93h3.6M827.30 375.93h-3.6M472.00 365.63h7.0M827.30 365.63h-7.0M472.00 355.33h3.6M827.30 355.33h-3.6M472.00 345.02h3.6M827.30 345.02h-3.6M472.00 334.72h3.6M827.30 334.72h-3.6M472.00 324.41h3.6M827.30 324.41h-3.6M472.00 314.11h7.0M827.30 314.11h-7.0M472.00 303.81h3.6M827.30 303.81h-3.6M472.00 293.50h3.6M827.30 293.50h-3.6" stroke="#111" stroke-width="0.9" fill="none"/>
<rect x="472.00" y="293.50" width="355.30" height="237.00" fill="none" stroke="#111" stroke-width="0.95"/>
<text x="487.5" y="552.2" font-size="16.00" text-anchor="middle" fill="#000">-0.5</text>
<text x="564.7" y="552.2" font-size="16.00" text-anchor="middle" fill="#000">0.0</text>
<text x="642.0" y="552.2" font-size="16.00" text-anchor="middle" fill="#000">0.5</text>
<text x="719.2" y="552.2" font-size="16.00" text-anchor="middle" fill="#000">1.0</text>
<text x="796.4" y="552.2" font-size="16.00" text-anchor="middle" fill="#000">1.5</text>
<text x="466.0" y="526.0" font-size="16.00" text-anchor="end" fill="#000">-0.5</text>
<text x="466.0" y="474.5" font-size="16.00" text-anchor="end" fill="#000">0.0</text>
<text x="466.0" y="422.9" font-size="16.00" text-anchor="end" fill="#000">0.5</text>
<text x="466.0" y="371.4" font-size="16.00" text-anchor="end" fill="#000">1.0</text>
<text x="466.0" y="319.9" font-size="16.00" text-anchor="end" fill="#000">1.5</text>
<text x="575.79" y="569.90" font-size="16.85" fill="#000">2log(σ) - log(I</text>
<text x="677.02" y="573.80" font-size="10.80" fill="#000">e</text>
<text x="683.03" y="569.90" font-size="16.85" fill="#000">) + C</text>
<g transform="translate(425.4 459.9) rotate(-90)">
<text x="0.00" y="0.00" font-size="16.50" fill="#000">log(R</text>
<text x="39.43" y="3.90" font-size="10.80" fill="#000">e</text>
<text x="45.44" y="0.00" font-size="16.50" fill="#000">)</text>
<text x="60.53" y="0.00" font-size="16.50" fill="#000">[kpc]</text>
</g>
<line x1="253.1" y1="173.3" x2="304.5" y2="173.3" stroke="#000" stroke-width="1.5" stroke-dasharray="10 3.8"/>
<line x1="253.1" y1="188.7" x2="311.7" y2="188.7" stroke="#000" stroke-width="2.1"/>
<text x="321.6" y="177.1" font-size="13.60" text-anchor="start" fill="#000">M</text>
<text x="333.0" y="180.1" font-size="8.60" text-anchor="start" fill="#000">dyn</text>
<path d="M360.00 171.55 C358.24 171.55 356.66 173.27 355.60 174.45 C354.72 175.53 353.84 175.85 353.14 175.85 C351.90 175.85 351.20 174.88 351.20 173.70 C351.20 172.52 351.90 171.55 353.14 171.55" fill="none" stroke="#000" stroke-width="1.1"/>
<path d="M353.14 171.55 C353.84 171.55 354.72 171.87 355.60 172.95 C356.66 174.13 358.24 175.85 360.00 175.85" fill="none" stroke="#000" stroke-width="1.1"/>
<text x="364.5" y="177.1" font-size="13.60" text-anchor="start" fill="#000">M</text>
<text x="376.0" y="182.3" font-size="8.50" text-anchor="start" fill="#555">*</text>
<text x="321.6" y="193.0" font-size="13.60" text-anchor="start" fill="#000">M</text>
<text x="333.0" y="196.0" font-size="8.60" text-anchor="start" fill="#000">dyn</text>
<path d="M360.00 187.45 C358.24 187.45 356.66 189.17 355.60 190.35 C354.72 191.43 353.84 191.75 353.14 191.75 C351.90 191.75 351.20 190.78 351.20 189.60 C351.20 188.42 351.90 187.45 353.14 187.45" fill="none" stroke="#000" stroke-width="1.1"/>
<path d="M353.14 187.45 C353.84 187.45 354.72 187.77 355.60 188.85 C356.66 190.03 358.24 191.75 360.00 191.75" fill="none" stroke="#000" stroke-width="1.1"/>
<text x="364.5" y="193.0" font-size="13.60" text-anchor="start" fill="#000">M</text>
<text x="376.0" y="198.2" font-size="8.50" text-anchor="start" fill="#555">*</text>
<text x="376.3" y="187.8" font-size="8.60" text-anchor="start" fill="#000">1.19</text>
<text x="270.0" y="229.8" font-size="14.00" text-anchor="start" fill="#000" textLength="103.4" lengthAdjust="spacingAndGlyphs">Tilt = 0.19 ± 0.02</text>
<line x1="630.1" y1="170.2" x2="708.6" y2="170.2" stroke="#000" stroke-width="1.5" stroke-dasharray="7.3 3.9"/>
<line x1="630.1" y1="190.8" x2="708.6" y2="190.8" stroke="#000" stroke-width="2.1"/>
<text x="722.6" y="175.5" font-size="13.60" text-anchor="start" fill="#000">R</text>
<text x="732.4" y="178.5" font-size="8.60" text-anchor="start" fill="#000">e</text>
<path d="M746.40 169.95 C744.64 169.95 743.06 171.67 742.00 172.85 C741.12 173.93 740.24 174.25 739.54 174.25 C738.30 174.25 737.60 173.28 737.60 172.10 C737.60 170.92 738.30 169.95 739.54 169.95" fill="none" stroke="#000" stroke-width="1.1"/>
<path d="M739.54 169.95 C740.24 169.95 741.12 170.27 742.00 171.35 C743.06 172.53 744.64 174.25 746.40 174.25" fill="none" stroke="#000" stroke-width="1.1"/>
<text x="746.6" y="175.5" font-size="13.60" text-anchor="start" fill="#000">σ</text>
<text x="755.0" y="170.5" font-size="8.60" text-anchor="start" fill="#000">2</text>
<text x="759.8" y="175.5" font-size="13.60" text-anchor="start" fill="#000">I</text>
<text x="763.8" y="178.7" font-size="8.60" text-anchor="start" fill="#000">e</text>
<text x="763.6" y="170.5" font-size="8.60" text-anchor="start" fill="#000">-1</text>
<text x="722.6" y="195.5" font-size="13.60" text-anchor="start" fill="#000">R</text>
<text x="732.4" y="198.5" font-size="8.60" text-anchor="start" fill="#000">e</text>
<path d="M746.40 189.95 C744.64 189.95 743.06 191.67 742.00 192.85 C741.12 193.93 740.24 194.25 739.54 194.25 C738.30 194.25 737.60 193.28 737.60 192.10 C737.60 190.92 738.30 189.95 739.54 189.95" fill="none" stroke="#000" stroke-width="1.1"/>
<path d="M739.54 189.95 C740.24 189.95 741.12 190.27 742.00 191.35 C743.06 192.53 744.64 194.25 746.40 194.25" fill="none" stroke="#000" stroke-width="1.1"/>
<text x="746.6" y="195.5" font-size="13.60" text-anchor="start" fill="#000">(σ</text>
<text x="759.6" y="190.5" font-size="8.60" text-anchor="start" fill="#000">2</text>
<text x="764.4" y="195.5" font-size="13.60" text-anchor="start" fill="#000">I</text>
<text x="768.4" y="198.7" font-size="8.60" text-anchor="start" fill="#000">e</text>
<text x="768.2" y="190.5" font-size="8.60" text-anchor="start" fill="#000">-1</text>
<text x="776.0" y="195.5" font-size="13.60" text-anchor="start" fill="#000">)</text>
<text x="781.0" y="189.9" font-size="8.60" text-anchor="start" fill="#000">0.80</text>
<text x="676.8" y="228.8" font-size="14.00" text-anchor="start" fill="#000" textLength="102.8" lengthAdjust="spacingAndGlyphs">Tilt = 0.20 ± 0.03</text>
<text x="259.3" y="477.1" font-size="14.00" text-anchor="start" fill="#000">Tilt =</text>
<text x="296.6" y="477.1" font-size="14.00" text-anchor="start" fill="#000" textLength="70.0" lengthAdjust="spacingAndGlyphs">0.21 ± 0.05</text>
<text x="259.3" y="496.7" font-size="14.00" text-anchor="start" fill="#ff0000">Tilt =</text>
<text x="296.6" y="496.7" font-size="14.00" text-anchor="start" fill="#ff0000" textLength="70.0" lengthAdjust="spacingAndGlyphs">0.23 ± 0.07</text>
<text x="259.3" y="517.2" font-size="14.00" text-anchor="start" fill="#9a00ff">Tilt =</text>
<text x="296.6" y="517.2" font-size="14.00" text-anchor="start" fill="#9a00ff" textLength="70.0" lengthAdjust="spacingAndGlyphs">0.20 ± 0.06</text>
<text x="676.0" y="473.6" font-size="14.00" text-anchor="start" fill="#000">Tilt =</text>
<text x="713.6" y="473.6" font-size="14.00" text-anchor="start" fill="#000" textLength="70.0" lengthAdjust="spacingAndGlyphs">0.23 ± 0.07</text>
<text x="676.0" y="494.0" font-size="14.00" text-anchor="start" fill="#ff0000">Tilt =</text>
<text x="713.6" y="494.0" font-size="14.00" text-anchor="start" fill="#ff0000" textLength="70.0" lengthAdjust="spacingAndGlyphs">0.35 ± 0.09</text>
<text x="676.0" y="514.7" font-size="14.00" text-anchor="start" fill="#9a00ff">Tilt =</text>
<text x="713.6" y="514.7" font-size="14.00" text-anchor="start" fill="#9a00ff" textLength="70.0" lengthAdjust="spacingAndGlyphs">0.17 ± 0.09</text>
</svg></body></html>
